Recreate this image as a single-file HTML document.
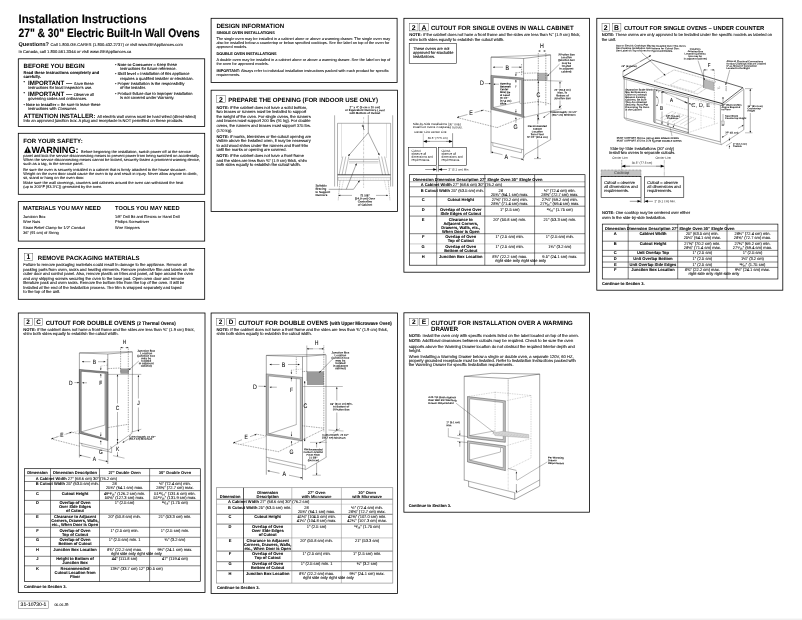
<!DOCTYPE html>
<html lang="en"><head><meta charset="utf-8">
<title>Installation Instructions – 27" &amp; 30" Electric Built-In Wall Ovens</title>
<style>
html,body{margin:0;padding:0;background:#fff;}
body{width:802px;height:620px;overflow:hidden;position:relative;font-family:"Liberation Sans",Arial,Helvetica,sans-serif;color:#000;}
#page{position:absolute;left:0;top:0;width:802px;height:620px;overflow:hidden;background:#fff;}
#layer{text-rendering:geometricPrecision;position:absolute;left:0;top:0;width:802px;height:620px;will-change:opacity;zoom:4;transform:scale(0.25);transform-origin:0 0;}
#gfx{position:absolute;left:0;top:0;width:802px;height:620px;}
#gfx text{font-family:"Liberation Sans",Arial,Helvetica,sans-serif;}
.t{position:absolute;white-space:nowrap;margin:0;padding:0;}
.t b{font-weight:bold;}
.sm{-webkit-text-stroke:0.07px #000;}
.t.sm b{-webkit-text-stroke:0.03px #000;}
.c{display:inline-block;transform-origin:0 50%;}
#foot{position:absolute;left:0;top:618px;width:802px;height:2px;background:linear-gradient(#f8f8f8 0,#f8f8f8 50%,#efefef 50%,#efefef 100%);}
</style></head>
<body>
<div id="page">
<div id="layer">
<svg id="gfx" width="802" height="620" viewBox="0 0 802 620">
<rect x="18.30" y="58.80" width="186.40" height="67.60" fill="none" stroke="#000" stroke-width="0.8"/>
<rect x="18.30" y="133.30" width="186.40" height="61.00" fill="none" stroke="#000" stroke-width="0.8"/>
<polygon points="24.30,152.70 30.90,152.70 27.60,146.60" fill="#000" stroke="#000" stroke-width="0.3"/>
<text x="27.60" y="152.10" font-size="5.0" text-anchor="middle" fill="#fff" font-weight="bold" stroke="#000" stroke-width="0.03">!</text>
<rect x="18.30" y="201.60" width="186.40" height="39.50" fill="none" stroke="#000" stroke-width="0.8"/>
<rect x="18.30" y="248.50" width="186.40" height="50.80" fill="none" stroke="#000" stroke-width="0.8"/>
<rect x="24.20" y="253.20" width="8.60" height="7.20" fill="none" stroke="#444" stroke-width="0.4"/>
<rect x="211.10" y="18.30" width="186.00" height="64.20" fill="none" stroke="#000" stroke-width="0.8"/>
<rect x="211.10" y="90.20" width="186.30" height="121.20" fill="none" stroke="#000" stroke-width="0.8"/>
<rect x="216.40" y="95.50" width="8.80" height="7.00" fill="none" stroke="#444" stroke-width="0.4"/>
<rect x="403.90" y="18.30" width="185.70" height="253.90" fill="none" stroke="#000" stroke-width="0.8"/>
<rect x="409.50" y="23.40" width="8.50" height="7.50" fill="none" stroke="#444" stroke-width="0.4"/>
<rect x="419.50" y="23.40" width="9.10" height="7.50" fill="none" stroke="#444" stroke-width="0.4"/>
<rect x="409.20" y="43.70" width="47.30" height="19.60" fill="none" stroke="#000" stroke-width="0.5"/>
<line x1="409.60" y1="181.80" x2="585.00" y2="181.80" stroke="#999" stroke-width="0.8"/>
<line x1="409.60" y1="186.80" x2="585.00" y2="186.80" stroke="#1a1a1a" stroke-width="0.55"/>
<line x1="409.60" y1="196.80" x2="585.00" y2="196.80" stroke="#1a1a1a" stroke-width="0.55"/>
<line x1="409.60" y1="206.20" x2="585.00" y2="206.20" stroke="#1a1a1a" stroke-width="0.55"/>
<line x1="409.60" y1="216.10" x2="585.00" y2="216.10" stroke="#1a1a1a" stroke-width="0.55"/>
<line x1="409.60" y1="233.70" x2="585.00" y2="233.70" stroke="#1a1a1a" stroke-width="0.55"/>
<line x1="409.60" y1="243.90" x2="585.00" y2="243.90" stroke="#999" stroke-width="0.5"/>
<line x1="409.60" y1="253.00" x2="585.00" y2="253.00" stroke="#1a1a1a" stroke-width="0.55"/>
<line x1="436.70" y1="174.70" x2="436.70" y2="265.20" stroke="#1a1a1a" stroke-width="0.55"/>
<line x1="484.80" y1="174.70" x2="484.80" y2="265.20" stroke="#1a1a1a" stroke-width="0.55"/>
<line x1="534.60" y1="174.70" x2="534.60" y2="265.20" stroke="#1a1a1a" stroke-width="0.55"/>
<rect x="409.60" y="174.70" width="175.40" height="90.50" fill="none" stroke="#000" stroke-width="0.65"/>
<rect x="596.80" y="18.30" width="186.00" height="271.90" fill="none" stroke="#000" stroke-width="0.8"/>
<rect x="602.00" y="23.60" width="7.50" height="7.50" fill="none" stroke="#444" stroke-width="0.4"/>
<rect x="612.20" y="23.60" width="8.70" height="7.50" fill="none" stroke="#444" stroke-width="0.4"/>
<line x1="602.30" y1="231.00" x2="777.90" y2="231.00" stroke="#999" stroke-width="0.8"/>
<line x1="602.30" y1="241.20" x2="777.90" y2="241.20" stroke="#1a1a1a" stroke-width="0.55"/>
<line x1="602.30" y1="250.40" x2="777.90" y2="250.40" stroke="#1a1a1a" stroke-width="0.55"/>
<line x1="602.30" y1="256.30" x2="777.90" y2="256.30" stroke="#1a1a1a" stroke-width="0.55"/>
<line x1="602.30" y1="262.00" x2="777.90" y2="262.00" stroke="#1a1a1a" stroke-width="0.55"/>
<line x1="602.30" y1="267.40" x2="777.90" y2="267.40" stroke="#1a1a1a" stroke-width="0.55"/>
<line x1="628.20" y1="224.10" x2="628.20" y2="279.00" stroke="#1a1a1a" stroke-width="0.55"/>
<line x1="677.70" y1="224.10" x2="677.70" y2="279.00" stroke="#1a1a1a" stroke-width="0.55"/>
<line x1="727.00" y1="224.10" x2="727.00" y2="279.00" stroke="#1a1a1a" stroke-width="0.55"/>
<rect x="602.30" y="224.10" width="175.60" height="54.90" fill="none" stroke="#000" stroke-width="0.65"/>
<rect x="18.30" y="313.00" width="186.70" height="279.60" fill="none" stroke="#000" stroke-width="0.8"/>
<rect x="24.10" y="318.20" width="8.10" height="7.00" fill="none" stroke="#444" stroke-width="0.4"/>
<rect x="34.70" y="318.20" width="7.90" height="7.00" fill="none" stroke="#444" stroke-width="0.4"/>
<line x1="24.40" y1="475.80" x2="200.30" y2="475.80" stroke="#999" stroke-width="0.7"/>
<line x1="24.40" y1="481.50" x2="200.30" y2="481.50" stroke="#1a1a1a" stroke-width="0.55"/>
<line x1="24.40" y1="490.60" x2="200.30" y2="490.60" stroke="#1a1a1a" stroke-width="0.55"/>
<line x1="24.40" y1="500.40" x2="200.30" y2="500.40" stroke="#1a1a1a" stroke-width="0.55"/>
<line x1="24.40" y1="514.10" x2="200.30" y2="514.10" stroke="#1a1a1a" stroke-width="0.55"/>
<line x1="24.40" y1="527.30" x2="200.30" y2="527.30" stroke="#1a1a1a" stroke-width="0.55"/>
<line x1="24.40" y1="537.30" x2="200.30" y2="537.30" stroke="#1a1a1a" stroke-width="0.55"/>
<line x1="24.40" y1="546.60" x2="200.30" y2="546.60" stroke="#1a1a1a" stroke-width="0.55"/>
<line x1="24.40" y1="556.30" x2="200.30" y2="556.30" stroke="#1a1a1a" stroke-width="0.55"/>
<line x1="24.40" y1="565.80" x2="200.30" y2="565.80" stroke="#1a1a1a" stroke-width="0.55"/>
<line x1="50.50" y1="468.70" x2="50.50" y2="581.60" stroke="#1a1a1a" stroke-width="0.55"/>
<line x1="99.50" y1="468.70" x2="99.50" y2="581.60" stroke="#1a1a1a" stroke-width="0.55"/>
<line x1="149.60" y1="468.70" x2="149.60" y2="581.60" stroke="#1a1a1a" stroke-width="0.55"/>
<rect x="24.40" y="468.70" width="175.90" height="112.90" fill="none" stroke="#000" stroke-width="0.65"/>
<rect x="211.10" y="313.00" width="186.30" height="280.60" fill="none" stroke="#000" stroke-width="0.8"/>
<rect x="216.40" y="318.20" width="8.30" height="7.00" fill="none" stroke="#444" stroke-width="0.4"/>
<rect x="226.80" y="318.20" width="8.60" height="7.00" fill="none" stroke="#444" stroke-width="0.4"/>
<line x1="216.60" y1="499.20" x2="392.80" y2="499.20" stroke="#1a1a1a" stroke-width="0.55"/>
<line x1="216.60" y1="504.20" x2="392.80" y2="504.20" stroke="#aaa" stroke-width="0.5"/>
<line x1="216.60" y1="514.30" x2="392.80" y2="514.30" stroke="#1a1a1a" stroke-width="0.55"/>
<line x1="216.60" y1="524.10" x2="392.80" y2="524.10" stroke="#1a1a1a" stroke-width="0.55"/>
<line x1="216.60" y1="537.90" x2="392.80" y2="537.90" stroke="#888" stroke-width="0.5"/>
<line x1="216.60" y1="551.10" x2="392.80" y2="551.10" stroke="#1a1a1a" stroke-width="0.55"/>
<line x1="216.60" y1="561.70" x2="392.80" y2="561.70" stroke="#1a1a1a" stroke-width="0.55"/>
<line x1="216.60" y1="570.70" x2="392.80" y2="570.70" stroke="#1a1a1a" stroke-width="0.55"/>
<line x1="243.50" y1="487.70" x2="243.50" y2="583.10" stroke="#111" stroke-width="0.7"/>
<line x1="291.80" y1="487.70" x2="291.80" y2="583.10" stroke="#888" stroke-width="0.5"/>
<line x1="341.40" y1="487.70" x2="341.40" y2="583.10" stroke="#888" stroke-width="0.5"/>
<rect x="216.60" y="487.70" width="176.20" height="95.40" fill="none" stroke="#888" stroke-width="0.65"/>
<rect x="403.90" y="312.80" width="185.70" height="199.40" fill="none" stroke="#000" stroke-width="0.8"/>
<rect x="409.50" y="318.50" width="8.50" height="7.10" fill="none" stroke="#444" stroke-width="0.4"/>
<rect x="419.50" y="318.50" width="8.70" height="7.10" fill="none" stroke="#444" stroke-width="0.4"/>
<rect x="18.30" y="601.00" width="30.40" height="7.40" fill="none" stroke="#777" stroke-width="0.5"/>
<line x1="334.60" y1="115.30" x2="334.60" y2="186.50" stroke="#222" stroke-width="0.35"/>
<line x1="392.70" y1="115.30" x2="392.70" y2="186.50" stroke="#222" stroke-width="0.35"/>
<line x1="337.50" y1="123.30" x2="337.50" y2="186.50" stroke="#222" stroke-width="0.35"/>
<line x1="390.60" y1="123.30" x2="390.60" y2="186.50" stroke="#222" stroke-width="0.35"/>
<line x1="337.50" y1="123.30" x2="390.60" y2="123.30" stroke="#222" stroke-width="0.35"/>
<line x1="341.50" y1="123.30" x2="341.50" y2="158.00" stroke="#888" stroke-width="0.25"/>
<line x1="386.50" y1="123.30" x2="386.50" y2="158.00" stroke="#888" stroke-width="0.25"/>
<line x1="363.60" y1="117.00" x2="363.60" y2="188.00" stroke="#555" stroke-width="0.3" stroke-dasharray="2 0.7 0.5 0.7"/>
<line x1="337.50" y1="174.80" x2="390.60" y2="174.80" stroke="#333" stroke-width="0.9"/>
<rect x="338.00" y="177.50" width="52.20" height="3.00" fill="none" stroke="#666" stroke-width="0.3"/>
<line x1="338.00" y1="179.00" x2="390.20" y2="179.00" stroke="#888" stroke-width="0.25" stroke-dasharray="1 0.6"/>
<line x1="342.80" y1="156.50" x2="339.00" y2="175.00" stroke="#222" stroke-width="0.3"/>
<line x1="384.60" y1="156.50" x2="388.60" y2="175.00" stroke="#222" stroke-width="0.3"/>
<line x1="345.80" y1="156.50" x2="342.00" y2="175.00" stroke="#222" stroke-width="0.3"/>
<line x1="381.60" y1="156.50" x2="385.60" y2="175.00" stroke="#222" stroke-width="0.3"/>
<line x1="348.80" y1="156.50" x2="345.00" y2="175.00" stroke="#222" stroke-width="0.3"/>
<line x1="378.60" y1="156.50" x2="382.60" y2="175.00" stroke="#222" stroke-width="0.3"/>
<line x1="340.00" y1="180.50" x2="338.20" y2="200.50" stroke="#222" stroke-width="0.3" stroke-dasharray="1.2 0.6"/>
<line x1="388.20" y1="180.50" x2="390.00" y2="200.50" stroke="#222" stroke-width="0.3" stroke-dasharray="1.2 0.6"/>
<line x1="343.50" y1="180.50" x2="341.50" y2="190.00" stroke="#777" stroke-width="0.3" stroke-dasharray="1.2 0.6"/>
<line x1="384.50" y1="180.50" x2="386.50" y2="190.00" stroke="#777" stroke-width="0.3" stroke-dasharray="1.2 0.6"/>
<line x1="349.00" y1="159.30" x2="378.50" y2="159.30" stroke="#222" stroke-width="0.35"/>
<line x1="349.00" y1="161.80" x2="378.50" y2="161.80" stroke="#222" stroke-width="0.3"/>
<line x1="349.00" y1="163.20" x2="378.50" y2="163.20" stroke="#888" stroke-width="0.25"/>
<line x1="368.30" y1="115.00" x2="368.30" y2="132.70" stroke="#000" stroke-width="0.35"/>
<line x1="368.30" y1="132.70" x2="348.30" y2="156.00" stroke="#000" stroke-width="0.35"/>
<polygon points="348.30,156.00 348.95,154.11 350.07,155.07" fill="#000" stroke="#000" stroke-width="0.1"/>
<line x1="368.30" y1="132.70" x2="379.40" y2="155.20" stroke="#000" stroke-width="0.35"/>
<polygon points="379.40,155.20 377.91,153.86 379.24,153.21" fill="#000" stroke="#000" stroke-width="0.1"/>
<text x="364.80" y="108.20" font-size="2.95" text-anchor="middle" fill="#000" font-weight="bold" stroke="#000" stroke-width="0.03" transform="rotate(0.2 364.80 108.20)">2" x 4" (5 cm x 10 cm)</text>
<text x="364.80" y="111.10" font-size="2.95" text-anchor="middle" fill="#000" font-weight="bold" stroke="#000" stroke-width="0.03" transform="rotate(0.2 364.80 111.10)">or Equivalent Runners Level</text>
<text x="364.80" y="114.00" font-size="2.95" text-anchor="middle" fill="#000" font-weight="bold" stroke="#000" stroke-width="0.03" transform="rotate(0.2 364.80 114.00)">with Bottom of Cutout</text>
<text x="363.00" y="127.00" font-size="3.2" text-anchor="middle" fill="#000" font-weight="bold" stroke="#000" stroke-width="0.03" transform="rotate(0.2 363.00 127.00)">C</text>
<text x="364.00" y="129.30" font-size="3.2" text-anchor="middle" fill="#000" font-weight="bold" stroke="#000" stroke-width="0.03" transform="rotate(0.2 364.00 129.30)">L</text>
<text x="315.40" y="186.60" font-size="2.95" text-anchor="start" fill="#000" font-weight="bold" stroke="#000" stroke-width="0.03" transform="rotate(0.2 315.40 186.60)">Suitable</text>
<text x="315.40" y="189.75" font-size="2.95" text-anchor="start" fill="#000" font-weight="bold" stroke="#000" stroke-width="0.03" transform="rotate(0.2 315.40 189.75)">Bracing</text>
<text x="315.40" y="192.90" font-size="2.95" text-anchor="start" fill="#000" font-weight="bold" stroke="#000" stroke-width="0.03" transform="rotate(0.2 315.40 192.90)">to Support</text>
<text x="315.40" y="196.05" font-size="2.95" text-anchor="start" fill="#000" font-weight="bold" stroke="#000" stroke-width="0.03" transform="rotate(0.2 315.40 196.05)">Runners</text>
<line x1="328.70" y1="189.30" x2="353.50" y2="189.30" stroke="#000" stroke-width="0.35"/>
<line x1="353.50" y1="189.30" x2="359.60" y2="180.60" stroke="#000" stroke-width="0.35"/>
<polygon points="359.60,180.60 359.14,182.55 357.93,181.69" fill="#000" stroke="#000" stroke-width="0.1"/>
<line x1="346.30" y1="189.30" x2="356.50" y2="163.60" stroke="#000" stroke-width="0.35"/>
<polygon points="356.50,163.60 356.50,165.60 355.13,165.05" fill="#000" stroke="#000" stroke-width="0.1"/>
<line x1="352.00" y1="195.40" x2="338.60" y2="195.40" stroke="#000" stroke-width="0.3"/>
<polygon points="338.60,195.40 340.27,194.73 340.27,196.07" fill="#000" stroke="#000" stroke-width="0.1"/>
<line x1="376.00" y1="195.40" x2="388.00" y2="195.40" stroke="#000" stroke-width="0.3"/>
<polygon points="388.00,195.40 386.33,196.07 386.33,194.73" fill="#000" stroke="#000" stroke-width="0.1"/>
<text x="365.00" y="196.40" font-size="2.95" text-anchor="middle" fill="#000" font-weight="bold" stroke="#000" stroke-width="0.03" transform="rotate(0.2 365.00 196.40)">21 5/8"</text>
<text x="365.00" y="199.50" font-size="2.95" text-anchor="middle" fill="#000" font-weight="bold" stroke="#000" stroke-width="0.03" transform="rotate(0.2 365.00 199.50)">(54.9 cm) Over</text>
<text x="365.00" y="202.60" font-size="2.95" text-anchor="middle" fill="#000" font-weight="bold" stroke="#000" stroke-width="0.03" transform="rotate(0.2 365.00 202.60)">Centerline</text>
<text x="365.00" y="205.70" font-size="2.95" text-anchor="middle" fill="#000" font-weight="bold" stroke="#000" stroke-width="0.03" transform="rotate(0.2 365.00 205.70)">of Cabinet</text>
<line x1="491.00" y1="57.00" x2="550.60" y2="54.70" stroke="#222" stroke-width="0.35"/>
<polyline points="491.00,57.20 523.60,58.50 550.60,55.00" fill="none" stroke="#222" stroke-width="0.4"/>
<line x1="491.00" y1="57.10" x2="491.00" y2="152.00" stroke="#222" stroke-width="0.4"/>
<line x1="523.60" y1="58.50" x2="523.60" y2="157.50" stroke="#222" stroke-width="0.4"/>
<line x1="550.60" y1="54.90" x2="550.60" y2="139.30" stroke="#222" stroke-width="0.4"/>
<line x1="491.00" y1="142.20" x2="523.60" y2="149.80" stroke="#222" stroke-width="0.35"/>
<line x1="492.80" y1="142.80" x2="492.80" y2="146.00" stroke="#222" stroke-width="0.3"/>
<line x1="492.80" y1="146.00" x2="521.50" y2="152.80" stroke="#222" stroke-width="0.35"/>
<line x1="521.50" y1="152.80" x2="521.50" y2="149.60" stroke="#222" stroke-width="0.3"/>
<line x1="525.00" y1="154.60" x2="551.20" y2="139.30" stroke="#222" stroke-width="0.35"/>
<line x1="523.60" y1="157.50" x2="525.00" y2="154.60" stroke="#222" stroke-width="0.3"/>
<polygon points="491.00,75.40 523.60,78.10 523.60,117.10 491.00,109.30" fill="#9a9a9a" stroke="#222" stroke-width="0.35"/>
<polygon points="493.30,77.40 521.60,79.80 521.60,114.80 493.30,107.50" fill="#fff" stroke="#222" stroke-width="0.3"/>
<line x1="519.80" y1="79.80" x2="519.80" y2="103.20" stroke="#222" stroke-width="0.3"/>
<line x1="493.30" y1="107.50" x2="519.80" y2="101.70" stroke="#222" stroke-width="0.3"/>
<line x1="519.80" y1="103.20" x2="521.60" y2="103.80" stroke="#222" stroke-width="0.3"/>
<rect x="537.20" y="73.00" width="10.00" height="7.20" fill="#b0b0b0" stroke="#777" stroke-width="0.2"/>
<line x1="538.30" y1="53.00" x2="538.30" y2="106.00" stroke="#222" stroke-width="0.5" stroke-dasharray="0.8 0.9"/>
<line x1="545.80" y1="53.00" x2="545.80" y2="106.00" stroke="#222" stroke-width="0.5" stroke-dasharray="0.8 0.9"/>
<line x1="523.60" y1="73.30" x2="537.60" y2="72.90" stroke="#222" stroke-width="0.5" stroke-dasharray="0.8 0.9"/>
<line x1="515.90" y1="73.00" x2="523.60" y2="71.80" stroke="#222" stroke-width="0.5" stroke-dasharray="0.8 0.9"/>
<line x1="523.60" y1="103.50" x2="538.30" y2="101.50" stroke="#222" stroke-width="0.5" stroke-dasharray="0.8 0.9"/>
<line x1="538.30" y1="101.50" x2="550.60" y2="104.00" stroke="#222" stroke-width="0.5" stroke-dasharray="0.8 0.9"/>
<line x1="523.60" y1="80.50" x2="538.30" y2="79.50" stroke="#222" stroke-width="0.5" stroke-dasharray="0.8 0.9"/>
<text transform="translate(542.00,48.20) scale(0.8,1)" font-size="6.6" text-anchor="middle" fill="#1a1a1a" stroke="#1a1a1a" stroke-width="0.12">H</text>
<line x1="541.00" y1="51.00" x2="538.50" y2="51.00" stroke="#000" stroke-width="0.3"/>
<polygon points="538.50,51.00 539.89,50.44 539.89,51.56" fill="#000" stroke="#000" stroke-width="0.1"/>
<line x1="543.00" y1="51.00" x2="545.60" y2="51.00" stroke="#000" stroke-width="0.3"/>
<polygon points="545.60,51.00 544.21,51.56 544.21,50.44" fill="#000" stroke="#000" stroke-width="0.1"/>
<text transform="translate(507.20,69.60) scale(0.8,1)" font-size="6.6" text-anchor="middle" fill="#1a1a1a" stroke="#1a1a1a" stroke-width="0.12">B</text>
<line x1="503.00" y1="67.20" x2="493.00" y2="67.20" stroke="#000" stroke-width="0.3"/>
<polygon points="493.00,67.20 494.67,66.53 494.67,67.87" fill="#000" stroke="#000" stroke-width="0.1"/>
<line x1="511.50" y1="67.20" x2="521.20" y2="67.20" stroke="#000" stroke-width="0.3"/>
<polygon points="521.20,67.20 519.53,67.87 519.53,66.53" fill="#000" stroke="#000" stroke-width="0.1"/>
<line x1="521.60" y1="64.00" x2="521.60" y2="76.00" stroke="#222" stroke-width="0.5" stroke-dasharray="0.8 0.9"/>
<text transform="translate(481.80,85.20) scale(0.8,1)" font-size="6.6" text-anchor="middle" fill="#1a1a1a" stroke="#1a1a1a" stroke-width="0.12">D</text>
<line x1="484.80" y1="83.60" x2="490.60" y2="83.60" stroke="#000" stroke-width="0.3"/>
<polygon points="490.60,83.60 489.11,84.19 489.11,83.01" fill="#000" stroke="#000" stroke-width="0.1"/>
<line x1="499.00" y1="84.20" x2="493.60" y2="84.20" stroke="#000" stroke-width="0.3"/>
<polygon points="493.60,84.20 495.09,83.61 495.09,84.79" fill="#000" stroke="#000" stroke-width="0.1"/>
<text x="499.90" y="84.60" font-size="2.65" text-anchor="start" fill="#000" font-weight="bold" stroke="#000" stroke-width="0.03" transform="rotate(0.2 499.90 84.60)">Opening</text>
<text x="499.90" y="87.44" font-size="2.65" text-anchor="start" fill="#000" font-weight="bold" stroke="#000" stroke-width="0.03" transform="rotate(0.2 499.90 87.44)">Between</text>
<text x="499.90" y="90.28" font-size="2.65" text-anchor="start" fill="#000" font-weight="bold" stroke="#000" stroke-width="0.03" transform="rotate(0.2 499.90 90.28)">Center</text>
<text x="499.90" y="93.12" font-size="2.65" text-anchor="start" fill="#000" font-weight="bold" stroke="#000" stroke-width="0.03" transform="rotate(0.2 499.90 93.12)">Must Be</text>
<text x="499.90" y="95.96" font-size="2.65" text-anchor="start" fill="#000" font-weight="bold" stroke="#000" stroke-width="0.03" transform="rotate(0.2 499.90 95.96)">at Least</text>
<text x="499.90" y="98.80" font-size="2.65" text-anchor="start" fill="#000" font-weight="bold" stroke="#000" stroke-width="0.03" transform="rotate(0.2 499.90 98.80)">30 1/2"</text>
<text x="499.90" y="101.64" font-size="2.65" text-anchor="start" fill="#000" font-weight="bold" stroke="#000" stroke-width="0.03" transform="rotate(0.2 499.90 101.64)">(77.4 cm)</text>
<text x="499.90" y="104.48" font-size="2.65" text-anchor="start" fill="#000" font-weight="bold" stroke="#000" stroke-width="0.03" transform="rotate(0.2 499.90 104.48)">Wide</text>
<line x1="515.90" y1="72.00" x2="515.90" y2="75.90" stroke="#000" stroke-width="0.3"/>
<polygon points="515.90,75.90 515.34,74.51 516.46,74.51" fill="#000" stroke="#000" stroke-width="0.1"/>
<line x1="515.90" y1="83.00" x2="515.90" y2="80.00" stroke="#000" stroke-width="0.3"/>
<polygon points="515.90,80.00 516.46,81.39 515.34,81.39" fill="#000" stroke="#000" stroke-width="0.1"/>
<text x="515.90" y="87.80" font-size="3.6" text-anchor="middle" fill="#555">F</text>
<line x1="515.90" y1="109.00" x2="515.90" y2="112.60" stroke="#000" stroke-width="0.3"/>
<polygon points="515.90,112.60 515.34,111.21 516.46,111.21" fill="#000" stroke="#000" stroke-width="0.1"/>
<line x1="515.90" y1="122.80" x2="515.90" y2="117.50" stroke="#000" stroke-width="0.3"/>
<polygon points="515.90,117.50 516.46,118.89 515.34,118.89" fill="#000" stroke="#000" stroke-width="0.1"/>
<text transform="translate(515.60,129.30) scale(0.8,1)" font-size="6.6" text-anchor="middle" fill="#1a1a1a" stroke="#1a1a1a" stroke-width="0.12">G</text>
<text transform="translate(538.30,97.30) scale(0.8,1)" font-size="6.6" text-anchor="middle" fill="#1a1a1a" stroke="#1a1a1a" stroke-width="0.12">C</text>
<line x1="538.30" y1="92.00" x2="538.30" y2="81.20" stroke="#000" stroke-width="0.3"/>
<polygon points="538.30,81.20 538.97,82.87 537.63,82.87" fill="#000" stroke="#000" stroke-width="0.1"/>
<line x1="538.30" y1="98.50" x2="538.30" y2="119.60" stroke="#000" stroke-width="0.3"/>
<polygon points="538.30,119.60 537.63,117.93 538.97,117.93" fill="#000" stroke="#000" stroke-width="0.1"/>
<line x1="537.00" y1="119.80" x2="539.60" y2="119.80" stroke="#222" stroke-width="0.3"/>
<line x1="523.60" y1="79.80" x2="562.30" y2="81.20" stroke="#222" stroke-width="0.3"/>
<line x1="523.60" y1="117.50" x2="561.70" y2="108.70" stroke="#222" stroke-width="0.3"/>
<line x1="560.00" y1="88.00" x2="560.00" y2="81.80" stroke="#000" stroke-width="0.3"/>
<polygon points="560.00,81.80 560.59,83.29 559.41,83.29" fill="#000" stroke="#000" stroke-width="0.1"/>
<line x1="560.00" y1="100.50" x2="560.00" y2="107.40" stroke="#000" stroke-width="0.3"/>
<polygon points="560.00,107.40 559.41,105.91 560.59,105.91" fill="#000" stroke="#000" stroke-width="0.1"/>
<text x="562.40" y="90.80" font-size="2.65" text-anchor="middle" fill="#000" font-weight="bold" stroke="#000" stroke-width="0.03" transform="rotate(0.2 562.40 90.80)">22" (55.9 cm)</text>
<text x="562.40" y="93.60" font-size="2.65" text-anchor="middle" fill="#000" font-weight="bold" stroke="#000" stroke-width="0.03" transform="rotate(0.2 562.40 93.60)">Max. To</text>
<text x="562.40" y="96.40" font-size="2.65" text-anchor="middle" fill="#000" font-weight="bold" stroke="#000" stroke-width="0.03" transform="rotate(0.2 562.40 96.40)">Bottom of</text>
<text x="562.40" y="99.20" font-size="2.65" text-anchor="middle" fill="#000" font-weight="bold" stroke="#000" stroke-width="0.03" transform="rotate(0.2 562.40 99.20)">Junction Box</text>
<text x="566.40" y="55.40" font-size="2.65" text-anchor="middle" fill="#000" font-weight="bold" stroke="#000" stroke-width="0.03" transform="rotate(0.2 566.40 55.40)">Junction Box</text>
<text x="566.40" y="58.24" font-size="2.65" text-anchor="middle" fill="#000" font-weight="bold" stroke="#000" stroke-width="0.03" transform="rotate(0.2 566.40 58.24)">Location</text>
<text x="566.40" y="61.08" font-size="2.65" text-anchor="middle" fill="#000" font-weight="bold" stroke="#000" stroke-width="0.03" transform="rotate(0.2 566.40 61.08)">(junction box</text>
<text x="566.40" y="63.92" font-size="2.65" text-anchor="middle" fill="#000" font-weight="bold" stroke="#000" stroke-width="0.03" transform="rotate(0.2 566.40 63.92)">may be</text>
<text x="566.40" y="66.76" font-size="2.65" text-anchor="middle" fill="#000" font-weight="bold" stroke="#000" stroke-width="0.03" transform="rotate(0.2 566.40 66.76)">located</text>
<text x="566.40" y="69.60" font-size="2.65" text-anchor="middle" fill="#000" font-weight="bold" stroke="#000" stroke-width="0.03" transform="rotate(0.2 566.40 69.60)">in adjacent</text>
<text x="566.40" y="72.44" font-size="2.65" text-anchor="middle" fill="#000" font-weight="bold" stroke="#000" stroke-width="0.03" transform="rotate(0.2 566.40 72.44)">cabinet)</text>
<line x1="559.60" y1="64.00" x2="547.40" y2="75.90" stroke="#000" stroke-width="0.3"/>
<polygon points="547.40,75.90 548.13,74.25 549.06,75.21" fill="#000" stroke="#000" stroke-width="0.1"/>
<text x="563.70" y="113.00" font-size="2.65" text-anchor="middle" fill="#000" font-weight="bold" stroke="#000" stroke-width="0.03" transform="rotate(0.2 563.70 113.00)">Cutout Depth: 23 1/2"</text>
<text x="563.70" y="115.70" font-size="2.65" text-anchor="middle" fill="#000" font-weight="bold" stroke="#000" stroke-width="0.03" transform="rotate(0.2 563.70 115.70)">(59.7 cm) Minimum</text>
<line x1="561.70" y1="105.20" x2="559.00" y2="107.90" stroke="#000" stroke-width="0.3"/>
<polygon points="559.00,107.90 559.59,106.52 560.38,107.31" fill="#000" stroke="#000" stroke-width="0.1"/>
<line x1="549.50" y1="113.10" x2="543.40" y2="117.60" stroke="#000" stroke-width="0.3"/>
<polygon points="543.40,117.60 544.24,116.24 544.95,117.20" fill="#000" stroke="#000" stroke-width="0.1"/>
<text x="537.30" y="127.10" font-size="2.65" text-anchor="middle" fill="#000" font-weight="bold" stroke="#000" stroke-width="0.03" transform="rotate(0.2 537.30 127.10)">Recommended</text>
<text x="537.30" y="129.80" font-size="2.65" text-anchor="middle" fill="#000" font-weight="bold" stroke="#000" stroke-width="0.03" transform="rotate(0.2 537.30 129.80)">Cutout</text>
<text x="537.30" y="132.50" font-size="2.65" text-anchor="middle" fill="#000" font-weight="bold" stroke="#000" stroke-width="0.03" transform="rotate(0.2 537.30 132.50)">Location</text>
<text x="537.30" y="135.20" font-size="2.65" text-anchor="middle" fill="#000" font-weight="bold" stroke="#000" stroke-width="0.03" transform="rotate(0.2 537.30 135.20)">from Floor</text>
<text x="537.30" y="137.90" font-size="2.65" text-anchor="middle" fill="#000" font-weight="bold" stroke="#000" stroke-width="0.03" transform="rotate(0.2 537.30 137.90)">32 1/2" (82.6 cm)</text>
<line x1="537.80" y1="124.00" x2="537.80" y2="114.80" stroke="#000" stroke-width="0.3"/>
<polygon points="537.80,114.80 538.39,116.29 537.21,116.29" fill="#000" stroke="#000" stroke-width="0.1"/>
<line x1="537.80" y1="139.50" x2="537.80" y2="158.50" stroke="#000" stroke-width="0.3"/>
<polygon points="537.80,158.50 537.21,157.01 538.39,157.01" fill="#000" stroke="#000" stroke-width="0.1"/>
<line x1="534.00" y1="158.60" x2="541.00" y2="158.60" stroke="#222" stroke-width="0.3"/>
<text transform="translate(471.00,115.40) scale(0.8,1)" font-size="6.6" text-anchor="middle" fill="#1a1a1a" stroke="#1a1a1a" stroke-width="0.12">E</text>
<line x1="467.50" y1="114.50" x2="457.20" y2="117.40" stroke="#000" stroke-width="0.3"/>
<polygon points="457.20,117.40 458.63,116.30 458.99,117.59" fill="#000" stroke="#000" stroke-width="0.1"/>
<line x1="474.50" y1="112.60" x2="483.00" y2="110.20" stroke="#000" stroke-width="0.3"/>
<polygon points="483.00,110.20 481.57,111.30 481.21,110.01" fill="#000" stroke="#000" stroke-width="0.1"/>
<line x1="457.00" y1="117.50" x2="497.10" y2="127.60" stroke="#222" stroke-width="0.5" stroke-dasharray="0.8 0.9"/>
<line x1="497.10" y1="127.60" x2="525.00" y2="116.60" stroke="#222" stroke-width="0.5" stroke-dasharray="0.8 0.9"/>
<line x1="483.20" y1="110.10" x2="491.00" y2="112.00" stroke="#222" stroke-width="0.5" stroke-dasharray="0.8 0.9"/>
<line x1="491.00" y1="152.00" x2="491.00" y2="153.50" stroke="#222" stroke-width="0.3"/>
<line x1="523.40" y1="157.00" x2="523.40" y2="161.00" stroke="#222" stroke-width="0.3"/>
<text transform="translate(506.30,159.00) scale(0.8,1)" font-size="6.6" text-anchor="middle" fill="#1a1a1a" stroke="#1a1a1a" stroke-width="0.12">A</text>
<line x1="502.50" y1="154.70" x2="491.30" y2="152.10" stroke="#000" stroke-width="0.3"/>
<polygon points="491.30,152.10 493.08,151.83 492.78,153.13" fill="#000" stroke="#000" stroke-width="0.1"/>
<line x1="510.50" y1="156.50" x2="523.20" y2="159.40" stroke="#000" stroke-width="0.3"/>
<polygon points="523.20,159.40 521.42,159.68 521.72,158.38" fill="#000" stroke="#000" stroke-width="0.1"/>
<text x="412.70" y="125.00" font-size="3.05" text-anchor="start" fill="#000" transform="rotate(0.2 412.70 125.00)">Side-by-Side Installations (30" only)</text>
<text x="412.70" y="128.00" font-size="3.05" text-anchor="start" fill="#000" transform="rotate(0.2 412.70 128.00)">Install two ovens in separate cutouts.</text>
<text x="414.20" y="133.00" font-size="3.05" text-anchor="start" fill="#000" transform="rotate(0.2 414.20 133.00)">Center Line Center Line</text>
<line x1="423.30" y1="133.60" x2="423.30" y2="147.30" stroke="#666" stroke-width="0.35"/>
<line x1="452.60" y1="133.20" x2="452.60" y2="147.30" stroke="#000" stroke-width="0.4"/>
<line x1="424.00" y1="141.40" x2="452.00" y2="141.40" stroke="#000" stroke-width="0.3"/>
<line x1="430.00" y1="141.40" x2="423.50" y2="141.40" stroke="#000" stroke-width="0.3"/>
<polygon points="423.50,141.40 426.84,140.06 426.84,142.74" fill="#000" stroke="#000" stroke-width="0.1"/>
<line x1="446.00" y1="141.40" x2="452.40" y2="141.40" stroke="#000" stroke-width="0.3"/>
<polygon points="452.40,141.40 449.06,142.74 449.06,140.06" fill="#000" stroke="#000" stroke-width="0.1"/>
<text x="437.70" y="139.00" font-size="2.95" text-anchor="middle" fill="#000" transform="rotate(0.2 437.70 139.00)">30.5" (77.5 cm)</text>
<rect x="408.40" y="147.30" width="28.30" height="18.30" fill="none" stroke="#000" stroke-width="0.5"/>
<rect x="438.50" y="147.30" width="28.10" height="18.30" fill="none" stroke="#000" stroke-width="0.5"/>
<text x="411.50" y="151.70" font-size="3.05" text-anchor="start" fill="#000" transform="rotate(0.2 411.50 151.70)">Cutout –</text>
<text x="411.50" y="154.75" font-size="3.05" text-anchor="start" fill="#000" transform="rotate(0.2 411.50 154.75)">observe all</text>
<text x="411.50" y="157.80" font-size="3.05" text-anchor="start" fill="#000" transform="rotate(0.2 411.50 157.80)">dimensions and</text>
<text x="411.50" y="160.85" font-size="3.05" text-anchor="start" fill="#000" transform="rotate(0.2 411.50 160.85)">requirements.</text>
<text x="441.40" y="151.70" font-size="3.05" text-anchor="start" fill="#000" transform="rotate(0.2 441.40 151.70)">Cutout –</text>
<text x="441.40" y="154.75" font-size="3.05" text-anchor="start" fill="#000" transform="rotate(0.2 441.40 154.75)">observe all</text>
<text x="441.40" y="157.80" font-size="3.05" text-anchor="start" fill="#000" transform="rotate(0.2 441.40 157.80)">dimensions and</text>
<text x="441.40" y="160.85" font-size="3.05" text-anchor="start" fill="#000" transform="rotate(0.2 441.40 160.85)">requirements.</text>
<line x1="436.70" y1="165.60" x2="436.70" y2="171.60" stroke="#000" stroke-width="0.4"/>
<line x1="438.50" y1="165.60" x2="438.50" y2="171.60" stroke="#000" stroke-width="0.4"/>
<line x1="425.20" y1="169.50" x2="436.40" y2="169.50" stroke="#000" stroke-width="0.4"/>
<polygon points="436.40,169.50 433.24,170.76 433.24,168.24" fill="#000" stroke="#000" stroke-width="0.1"/>
<line x1="447.00" y1="169.50" x2="438.80" y2="169.50" stroke="#000" stroke-width="0.4"/>
<polygon points="438.80,169.50 441.96,168.24 441.96,170.76" fill="#000" stroke="#000" stroke-width="0.1"/>
<text x="448.60" y="170.40" font-size="2.95" text-anchor="start" fill="#000" transform="rotate(0.2 448.60 170.40)">2" (5.1 cm) Min.</text>
<polyline points="622.90,76.80 651.60,59.90 742.90,87.70 722.30,103.60" fill="none" stroke="#111" stroke-width="0.65"/>
<line x1="622.90" y1="76.90" x2="722.30" y2="103.60" stroke="#222" stroke-width="0.9"/>
<line x1="623.00" y1="78.60" x2="722.30" y2="105.60" stroke="#222" stroke-width="0.35"/>
<line x1="722.30" y1="103.60" x2="722.30" y2="105.60" stroke="#222" stroke-width="0.35"/>
<line x1="722.30" y1="105.60" x2="743.60" y2="89.40" stroke="#222" stroke-width="0.35"/>
<line x1="742.90" y1="87.70" x2="743.60" y2="89.40" stroke="#222" stroke-width="0.35"/>
<line x1="624.20" y1="78.00" x2="624.20" y2="117.80" stroke="#222" stroke-width="0.4"/>
<line x1="720.40" y1="105.00" x2="720.40" y2="141.90" stroke="#222" stroke-width="0.4"/>
<line x1="743.80" y1="89.60" x2="743.80" y2="129.80" stroke="#222" stroke-width="0.4"/>
<line x1="624.20" y1="117.80" x2="720.40" y2="141.90" stroke="#222" stroke-width="0.4"/>
<line x1="626.00" y1="119.80" x2="721.40" y2="144.70" stroke="#222" stroke-width="0.35"/>
<line x1="624.20" y1="117.80" x2="626.00" y2="119.80" stroke="#222" stroke-width="0.3"/>
<line x1="720.40" y1="141.90" x2="721.40" y2="144.70" stroke="#222" stroke-width="0.3"/>
<line x1="721.40" y1="144.70" x2="743.80" y2="129.80" stroke="#222" stroke-width="0.35"/>
<line x1="626.50" y1="79.50" x2="626.50" y2="118.20" stroke="#777" stroke-width="0.25"/>
<polygon points="654.10,81.10 674.00,69.90 716.00,81.80 697.50,94.00" fill="none" stroke="#444" stroke-width="0.35" stroke-dasharray="1 0.6"/>
<polygon points="670.30,84.90 680.30,79.30 703.00,85.80 694.00,91.80" fill="none" stroke="#555" stroke-width="0.3" stroke-dasharray="1 0.6"/>
<line x1="654.00" y1="89.00" x2="654.00" y2="122.30" stroke="#666" stroke-width="1.1"/>
<line x1="655.60" y1="89.80" x2="655.60" y2="122.00" stroke="#222" stroke-width="0.3"/>
<line x1="688.30" y1="97.50" x2="688.30" y2="133.50" stroke="#111" stroke-width="0.5"/>
<line x1="654.00" y1="89.00" x2="688.30" y2="98.00" stroke="#222" stroke-width="0.4"/>
<line x1="654.00" y1="122.30" x2="688.30" y2="132.60" stroke="#222" stroke-width="0.5"/>
<line x1="656.00" y1="119.50" x2="688.30" y2="129.50" stroke="#222" stroke-width="0.3"/>
<line x1="660.00" y1="118.50" x2="672.00" y2="111.50" stroke="#777" stroke-width="0.25"/>
<line x1="664.00" y1="119.70" x2="676.00" y2="112.70" stroke="#777" stroke-width="0.25"/>
<line x1="668.00" y1="120.90" x2="680.00" y2="113.90" stroke="#777" stroke-width="0.25"/>
<line x1="672.00" y1="122.10" x2="684.00" y2="115.10" stroke="#777" stroke-width="0.25"/>
<line x1="676.00" y1="123.30" x2="688.00" y2="116.30" stroke="#777" stroke-width="0.25"/>
<line x1="680.00" y1="124.50" x2="692.00" y2="117.50" stroke="#777" stroke-width="0.25"/>
<line x1="684.00" y1="125.70" x2="696.00" y2="118.70" stroke="#777" stroke-width="0.25"/>
<line x1="672.00" y1="111.50" x2="696.00" y2="118.50" stroke="#666" stroke-width="0.3" stroke-dasharray="0.8 0.9"/>
<line x1="666.00" y1="104.00" x2="688.00" y2="110.00" stroke="#666" stroke-width="0.3" stroke-dasharray="0.8 0.9"/>
<line x1="688.30" y1="98.00" x2="716.00" y2="105.20" stroke="#555" stroke-width="0.3" stroke-dasharray="0.8 0.9"/>
<line x1="688.30" y1="132.60" x2="718.00" y2="123.00" stroke="#555" stroke-width="0.3" stroke-dasharray="0.8 0.9"/>
<line x1="701.00" y1="101.50" x2="701.00" y2="128.50" stroke="#777" stroke-width="0.3" stroke-dasharray="0.8 0.9"/>
<line x1="690.00" y1="112.00" x2="714.40" y2="119.00" stroke="#666" stroke-width="0.3" stroke-dasharray="0.8 0.9"/>
<polygon points="703.60,79.30 713.90,82.20 713.90,90.60 703.60,87.60" fill="#b8b8b8" stroke="#666" stroke-width="0.25"/>
<line x1="703.60" y1="69.90" x2="703.60" y2="88.00" stroke="#222" stroke-width="0.35"/>
<line x1="714.40" y1="69.90" x2="714.40" y2="124.20" stroke="#333" stroke-width="0.35" stroke-dasharray="0.8 0.9"/>
<text transform="translate(709.20,66.60) scale(0.8,1)" font-size="5.6" text-anchor="middle" fill="#1a1a1a" stroke="#1a1a1a" stroke-width="0.12">F</text>
<line x1="707.50" y1="69.90" x2="703.80" y2="69.90" stroke="#000" stroke-width="0.3"/>
<polygon points="703.80,69.90 705.29,69.31 705.29,70.49" fill="#000" stroke="#000" stroke-width="0.1"/>
<line x1="710.50" y1="69.90" x2="714.20" y2="69.90" stroke="#000" stroke-width="0.3"/>
<polygon points="714.20,69.90 712.71,70.49 712.71,69.31" fill="#000" stroke="#000" stroke-width="0.1"/>
<text x="695.20" y="49.70" font-size="2.48" text-anchor="middle" fill="#000" font-weight="bold" stroke="#000" stroke-width="0.03" transform="rotate(0.2 695.20 49.70)">Installers</text>
<text x="695.20" y="52.15" font-size="2.48" text-anchor="middle" fill="#000" font-weight="bold" stroke="#000" stroke-width="0.03" transform="rotate(0.2 695.20 52.15)">Junction Box</text>
<text x="695.20" y="54.60" font-size="2.48" text-anchor="middle" fill="#000" font-weight="bold" stroke="#000" stroke-width="0.03" transform="rotate(0.2 695.20 54.60)">Location (junction</text>
<text x="695.20" y="57.05" font-size="2.48" text-anchor="middle" fill="#000" font-weight="bold" stroke="#000" stroke-width="0.03" transform="rotate(0.2 695.20 57.05)">box may be</text>
<text x="695.20" y="59.50" font-size="2.48" text-anchor="middle" fill="#000" font-weight="bold" stroke="#000" stroke-width="0.03" transform="rotate(0.2 695.20 59.50)">in adjacent cabinet)</text>
<line x1="698.00" y1="60.60" x2="704.50" y2="80.00" stroke="#000" stroke-width="0.3"/>
<polygon points="704.50,80.00 703.40,78.70 704.60,78.30" fill="#000" stroke="#000" stroke-width="0.1"/>
<text x="726.40" y="62.10" font-size="2.43" text-anchor="start" fill="#000" font-weight="bold" stroke="#000" stroke-width="0.03" transform="rotate(0.2 726.40 62.10)">Allow all Electrical Connections</text>
<text x="726.40" y="64.40" font-size="2.43" text-anchor="start" fill="#000" font-weight="bold" stroke="#000" stroke-width="0.03" transform="rotate(0.2 726.40 64.40)">for Gas Cooktops that are Located</text>
<text x="726.40" y="66.70" font-size="2.43" text-anchor="start" fill="#000" font-weight="bold" stroke="#000" stroke-width="0.03" transform="rotate(0.2 726.40 66.70)">6" as Shown if Connection</text>
<text x="726.40" y="69.00" font-size="2.43" text-anchor="start" fill="#000" font-weight="bold" stroke="#000" stroke-width="0.03" transform="rotate(0.2 726.40 69.00)">Located to the Right</text>
<line x1="729.80" y1="69.90" x2="725.70" y2="84.90" stroke="#000" stroke-width="0.3"/>
<polygon points="725.70,84.90 725.51,83.21 726.72,83.54" fill="#000" stroke="#000" stroke-width="0.1"/>
<text x="719.50" y="88.50" font-size="2.48" text-anchor="middle" fill="#666" transform="rotate(-38 719.5 88.5)">42"</text>
<text x="727.00" y="88.50" font-size="2.48" text-anchor="middle" fill="#666" transform="rotate(-90 727.0 88.5)">2002</text>
<line x1="750.30" y1="105.00" x2="750.30" y2="89.00" stroke="#000" stroke-width="0.3"/>
<polygon points="750.30,89.00 750.97,90.67 749.63,90.67" fill="#000" stroke="#000" stroke-width="0.1"/>
<line x1="750.30" y1="113.00" x2="750.30" y2="132.60" stroke="#000" stroke-width="0.3"/>
<polygon points="750.30,132.60 749.63,130.93 750.97,130.93" fill="#000" stroke="#000" stroke-width="0.1"/>
<line x1="745.00" y1="88.60" x2="752.50" y2="88.60" stroke="#222" stroke-width="0.3"/>
<line x1="745.00" y1="132.80" x2="752.50" y2="132.80" stroke="#222" stroke-width="0.3"/>
<text x="747.40" y="107.00" font-size="2.48" text-anchor="start" fill="#000" font-weight="bold" stroke="#000" stroke-width="0.03" transform="rotate(0.2 747.40 107.00)">36" (91.4 cm)</text>
<text x="747.40" y="109.25" font-size="2.48" text-anchor="start" fill="#000" font-weight="bold" stroke="#000" stroke-width="0.03" transform="rotate(0.2 747.40 109.25)">Countertop</text>
<text x="747.40" y="111.50" font-size="2.48" text-anchor="start" fill="#000" font-weight="bold" stroke="#000" stroke-width="0.03" transform="rotate(0.2 747.40 111.50)">Height</text>
<text x="721.60" y="105.80" font-size="2.43" text-anchor="start" fill="#000" font-weight="bold" stroke="#000" stroke-width="0.03" transform="rotate(0.2 721.60 105.80)">22" (55.9 cm) Min.</text>
<text x="721.60" y="108.00" font-size="2.43" text-anchor="start" fill="#000" font-weight="bold" stroke="#000" stroke-width="0.03" transform="rotate(0.2 721.60 108.00)">Above Required</text>
<text x="721.60" y="110.20" font-size="2.43" text-anchor="start" fill="#000" font-weight="bold" stroke="#000" stroke-width="0.03" transform="rotate(0.2 721.60 110.20)">to Floor</text>
<text x="725.10" y="116.70" font-size="2.43" text-anchor="start" fill="#000" font-weight="bold" stroke="#000" stroke-width="0.03" transform="rotate(0.2 725.10 116.70)">Spec Block</text>
<text x="725.10" y="118.90" font-size="2.43" text-anchor="start" fill="#000" font-weight="bold" stroke="#000" stroke-width="0.03" transform="rotate(0.2 725.10 118.90)">Countertop Height</text>
<line x1="723.00" y1="103.50" x2="723.00" y2="97.00" stroke="#000" stroke-width="0.3"/>
<polygon points="723.00,97.00 723.56,98.39 722.44,98.39" fill="#000" stroke="#000" stroke-width="0.1"/>
<line x1="723.00" y1="114.00" x2="723.00" y2="126.00" stroke="#000" stroke-width="0.3"/>
<polygon points="723.00,126.00 722.44,124.61 723.56,124.61" fill="#000" stroke="#000" stroke-width="0.1"/>
<rect x="721.80" y="121.00" width="2.60" height="4.50" fill="none" stroke="#555" stroke-width="0.25"/>
<text x="731.80" y="133.40" font-size="2.48" text-anchor="middle" fill="#000" font-weight="bold" stroke="#000" stroke-width="0.03" transform="rotate(0.2 731.80 133.40)">24" (61 cm)</text>
<line x1="727.50" y1="134.00" x2="722.00" y2="137.40" stroke="#000" stroke-width="0.3"/>
<polygon points="722.00,137.40 722.95,136.11 723.58,137.12" fill="#000" stroke="#000" stroke-width="0.1"/>
<line x1="738.00" y1="128.30" x2="743.40" y2="125.20" stroke="#000" stroke-width="0.3"/>
<polygon points="743.40,125.20 742.41,126.45 741.82,125.43" fill="#000" stroke="#000" stroke-width="0.1"/>
<text x="733.10" y="144.70" font-size="2.43" text-anchor="start" fill="#000" font-weight="bold" stroke="#000" stroke-width="0.03" transform="rotate(0.2 733.10 144.70)">4" (10.2 cm)</text>
<text x="733.10" y="147.00" font-size="2.43" text-anchor="start" fill="#000" font-weight="bold" stroke="#000" stroke-width="0.03" transform="rotate(0.2 733.10 147.00)">Toekick</text>
<line x1="729.40" y1="137.50" x2="729.40" y2="140.50" stroke="#000" stroke-width="0.3"/>
<polygon points="729.40,140.50 728.88,139.20 729.92,139.20" fill="#000" stroke="#000" stroke-width="0.1"/>
<line x1="729.40" y1="149.00" x2="729.40" y2="145.60" stroke="#000" stroke-width="0.3"/>
<polygon points="729.40,145.60 729.92,146.90 728.88,146.90" fill="#000" stroke="#000" stroke-width="0.1"/>
<line x1="726.00" y1="146.00" x2="732.00" y2="142.20" stroke="#222" stroke-width="0.3"/>
<line x1="634.00" y1="65.00" x2="623.20" y2="71.20" stroke="#000" stroke-width="0.3"/>
<polygon points="623.20,71.20 624.32,69.79 624.98,70.95" fill="#000" stroke="#000" stroke-width="0.1"/>
<line x1="640.00" y1="61.60" x2="650.80" y2="55.60" stroke="#000" stroke-width="0.3"/>
<polygon points="650.80,55.60 649.66,57.00 649.01,55.83" fill="#000" stroke="#000" stroke-width="0.1"/>
<line x1="623.20" y1="71.20" x2="650.80" y2="55.60" stroke="#222" stroke-width="0.3"/>
<line x1="622.90" y1="76.80" x2="622.90" y2="71.00" stroke="#222" stroke-width="0.3"/>
<text x="629.00" y="67.00" font-size="2.48" text-anchor="middle" fill="#000" font-weight="bold" stroke="#000" stroke-width="0.03" transform="rotate(0.2 629.00 67.00)">25" (63.5 cm)</text>
<text x="616.10" y="46.50" font-size="2.5" text-anchor="start" fill="#000" font-weight="bold" stroke="#000" stroke-width="0.03" transform="rotate(0.2 616.10 46.50)">Gas or Electric Cooktops May Be Installed Over This Oven.</text>
<text x="616.10" y="49.00" font-size="2.5" text-anchor="start" fill="#000" font-weight="bold" stroke="#000" stroke-width="0.03" transform="rotate(0.2 616.10 49.00)">See Cooktop Installation Instructions for Cutout Size.</text>
<text x="616.10" y="51.50" font-size="2.5" text-anchor="start" fill="#000" font-weight="bold" stroke="#000" stroke-width="0.03" transform="rotate(0.2 616.10 51.50)">See Label on Top of Oven for Approved Models.</text>
<line x1="641.60" y1="52.50" x2="665.30" y2="75.50" stroke="#000" stroke-width="0.3"/>
<polygon points="665.30,75.50 663.54,74.78 664.52,73.77" fill="#000" stroke="#000" stroke-width="0.1"/>
<text x="625.20" y="90.50" font-size="2.48" text-anchor="start" fill="#000" font-weight="bold" stroke="#000" stroke-width="0.03" transform="rotate(0.2 625.20 90.50)">Separation Brake Block</text>
<text x="625.20" y="93.00" font-size="2.48" text-anchor="start" fill="#000" font-weight="bold" stroke="#000" stroke-width="0.03" transform="rotate(0.2 625.20 93.00)">May Be Necessary</text>
<text x="625.20" y="95.50" font-size="2.48" text-anchor="start" fill="#000" font-weight="bold" stroke="#000" stroke-width="0.03" transform="rotate(0.2 625.20 95.50)">Close to Cooktops</text>
<text x="625.20" y="98.00" font-size="2.48" text-anchor="start" fill="#000" font-weight="bold" stroke="#000" stroke-width="0.03" transform="rotate(0.2 625.20 98.00)">Between Existing</text>
<text x="625.20" y="100.50" font-size="2.48" text-anchor="start" fill="#000" font-weight="bold" stroke="#000" stroke-width="0.03" transform="rotate(0.2 625.20 100.50)">Cabinets. Be Sure</text>
<text x="625.20" y="103.00" font-size="2.48" text-anchor="start" fill="#000" font-weight="bold" stroke="#000" stroke-width="0.03" transform="rotate(0.2 625.20 103.00)">They Are Attached</text>
<text x="625.20" y="105.50" font-size="2.48" text-anchor="start" fill="#000" font-weight="bold" stroke="#000" stroke-width="0.03" transform="rotate(0.2 625.20 105.50)">Securely. Runs Flat</text>
<text x="625.20" y="108.00" font-size="2.48" text-anchor="start" fill="#000" font-weight="bold" stroke="#000" stroke-width="0.03" transform="rotate(0.2 625.20 108.00)">Preventing Tip Oven</text>
<text x="625.20" y="110.50" font-size="2.48" text-anchor="start" fill="#000" font-weight="bold" stroke="#000" stroke-width="0.03" transform="rotate(0.2 625.20 110.50)">in the Cabinet</text>
<text x="659.00" y="92.80" font-size="3.0" text-anchor="middle" fill="#444" transform="rotate(0.2 659.00 92.80)">F</text>
<line x1="656.80" y1="89.60" x2="656.80" y2="91.20" stroke="#000" stroke-width="0.3"/>
<polygon points="656.80,91.20 656.35,90.09 657.25,90.09" fill="#000" stroke="#000" stroke-width="0.1"/>
<text transform="translate(671.60,102.40) scale(0.8,1)" font-size="5.6" text-anchor="middle" fill="#1a1a1a" stroke="#1a1a1a" stroke-width="0.12">A</text>
<line x1="667.50" y1="94.00" x2="662.20" y2="91.50" stroke="#000" stroke-width="0.3"/>
<polygon points="662.20,91.50 663.80,91.60 663.29,92.67" fill="#000" stroke="#000" stroke-width="0.1"/>
<line x1="676.00" y1="98.00" x2="686.60" y2="102.60" stroke="#000" stroke-width="0.3"/>
<polygon points="686.60,102.60 685.00,102.55 685.47,101.46" fill="#000" stroke="#000" stroke-width="0.1"/>
<line x1="662.20" y1="91.50" x2="686.60" y2="102.60" stroke="#555" stroke-width="0.25"/>
<text transform="translate(661.60,110.00) scale(0.8,1)" font-size="5.6" text-anchor="middle" fill="#1a1a1a" stroke="#1a1a1a" stroke-width="0.12">B</text>
<line x1="662.00" y1="103.50" x2="662.00" y2="91.60" stroke="#000" stroke-width="0.3"/>
<polygon points="662.00,91.60 662.59,93.09 661.41,93.09" fill="#000" stroke="#000" stroke-width="0.1"/>
<line x1="662.00" y1="111.50" x2="662.00" y2="124.00" stroke="#000" stroke-width="0.3"/>
<polygon points="662.00,124.00 661.41,122.51 662.59,122.51" fill="#000" stroke="#000" stroke-width="0.1"/>
<path d="M656.5,96.5 Q660.5,101 656.5,106" fill="none" stroke="#222" stroke-width="0.3"/>
<line x1="657.20" y1="97.40" x2="656.60" y2="96.60" stroke="#000" stroke-width="0.3"/>
<polygon points="656.60,96.60 657.62,97.22 656.91,97.76" fill="#000" stroke="#000" stroke-width="0.1"/>
<line x1="657.20" y1="105.20" x2="656.60" y2="105.90" stroke="#000" stroke-width="0.3"/>
<polygon points="656.60,105.90 656.99,104.76 657.66,105.34" fill="#000" stroke="#000" stroke-width="0.1"/>
<text x="700.80" y="107.40" font-size="5.6" text-anchor="middle" fill="#1a1a1a" textLength="19" lengthAdjust="spacingAndGlyphs">C, D, E</text>
<line x1="694.00" y1="105.00" x2="689.00" y2="103.50" stroke="#000" stroke-width="0.3"/>
<polygon points="689.00,103.50 690.49,103.37 690.17,104.43" fill="#000" stroke="#000" stroke-width="0.1"/>
<line x1="684.00" y1="102.00" x2="687.80" y2="103.10" stroke="#000" stroke-width="0.3"/>
<polygon points="687.80,103.10 686.31,103.25 686.62,102.18" fill="#000" stroke="#000" stroke-width="0.1"/>
<text x="672.70" y="116.90" font-size="2.38" text-anchor="middle" fill="#000" font-weight="bold" stroke="#000" stroke-width="0.03" transform="rotate(0.2 672.70 116.90)">3/4" (1.9 cm)</text>
<text x="672.70" y="119.10" font-size="2.38" text-anchor="middle" fill="#000" font-weight="bold" stroke="#000" stroke-width="0.03" transform="rotate(0.2 672.70 119.10)">Clearance</text>
<line x1="668.00" y1="121.00" x2="668.00" y2="125.60" stroke="#000" stroke-width="0.3"/>
<polygon points="668.00,125.60 667.48,124.30 668.52,124.30" fill="#000" stroke="#000" stroke-width="0.1"/>
<line x1="675.00" y1="123.00" x2="673.00" y2="127.40" stroke="#000" stroke-width="0.3"/>
<polygon points="673.00,127.40 673.07,126.00 674.01,126.43" fill="#000" stroke="#000" stroke-width="0.1"/>
<text x="616.70" y="138.80" font-size="2.45" text-anchor="start" fill="#000" font-weight="bold" stroke="#000" stroke-width="0.03" transform="rotate(0.2 616.70 138.80)">MUST SUPPORT 200 lbs. (90 kg) FOR SINGLE OVENS</text>
<text x="616.70" y="141.50" font-size="2.45" text-anchor="start" fill="#000" font-weight="bold" stroke="#000" stroke-width="0.03" transform="rotate(0.2 616.70 141.50)">MUST SUPPORT 375 lbs. (170 kg) FOR DOUBLE OVENS</text>
<line x1="670.00" y1="127.00" x2="672.00" y2="136.00" stroke="#222" stroke-width="0.3"/>
<text x="612.30" y="158.70" font-size="3.02" text-anchor="start" fill="#000" transform="rotate(0.2 612.30 158.70)">Center Line</text>
<text x="655.40" y="158.70" font-size="3.02" text-anchor="start" fill="#000" transform="rotate(0.2 655.40 158.70)">Center Line</text>
<line x1="621.70" y1="160.00" x2="621.70" y2="170.50" stroke="#222" stroke-width="0.4" stroke-dasharray="1.6 0.5 0.5 0.5"/>
<line x1="664.30" y1="160.00" x2="664.30" y2="176.80" stroke="#333" stroke-width="0.45" stroke-dasharray="0.6 0.6"/>
<line x1="622.50" y1="166.20" x2="663.50" y2="166.20" stroke="#000" stroke-width="0.3"/>
<line x1="630.00" y1="166.20" x2="621.90" y2="166.20" stroke="#000" stroke-width="0.3"/>
<polygon points="621.90,166.20 625.24,164.86 625.24,167.54" fill="#000" stroke="#000" stroke-width="0.1"/>
<line x1="656.00" y1="166.20" x2="664.10" y2="166.20" stroke="#000" stroke-width="0.3"/>
<polygon points="664.10,166.20 660.76,167.54 660.76,164.86" fill="#000" stroke="#000" stroke-width="0.1"/>
<text x="642.00" y="163.70" font-size="3.05" text-anchor="middle" fill="#000" transform="rotate(0.2 642.00 163.70)">30.5" (77.5 cm)</text>
<rect x="601.10" y="170.20" width="39.90" height="6.20" fill="#c4c4c4" stroke="#bbb" stroke-width="0.1"/>
<line x1="601.10" y1="170.00" x2="641.00" y2="170.00" stroke="#333" stroke-width="0.5" stroke-dasharray="0.7 0.7"/>
<line x1="601.10" y1="170.00" x2="601.10" y2="176.40" stroke="#444" stroke-width="0.4" stroke-dasharray="0.7 0.7"/>
<line x1="641.00" y1="170.00" x2="641.00" y2="176.40" stroke="#444" stroke-width="0.4" stroke-dasharray="0.7 0.7"/>
<text x="621.70" y="174.00" font-size="4.0" text-anchor="middle" fill="#333">Cooktop</text>
<rect x="601.10" y="176.50" width="39.90" height="21.10" fill="none" stroke="#000" stroke-width="0.55"/>
<line x1="601.10" y1="176.50" x2="641.00" y2="176.50" stroke="#111" stroke-width="0.7" stroke-dasharray="0.9 0.5"/>
<rect x="644.40" y="176.80" width="39.40" height="20.80" fill="none" stroke="#000" stroke-width="0.55"/>
<line x1="641.00" y1="197.60" x2="641.00" y2="203.00" stroke="#000" stroke-width="0.45"/>
<line x1="644.40" y1="197.60" x2="644.40" y2="203.00" stroke="#000" stroke-width="0.45"/>
<line x1="629.80" y1="201.30" x2="640.70" y2="201.30" stroke="#000" stroke-width="0.4"/>
<polygon points="640.70,201.30 637.54,202.56 637.54,200.04" fill="#000" stroke="#000" stroke-width="0.1"/>
<line x1="652.90" y1="201.30" x2="644.70" y2="201.30" stroke="#000" stroke-width="0.4"/>
<polygon points="644.70,201.30 647.86,200.04 647.86,202.56" fill="#000" stroke="#000" stroke-width="0.1"/>
<text x="654.40" y="202.30" font-size="3.05" text-anchor="start" fill="#000" transform="rotate(0.2 654.40 202.30)">2" (5.1 cm) Min.</text>
<line x1="79.40" y1="352.80" x2="132.40" y2="351.60" stroke="#222" stroke-width="0.35"/>
<polyline points="79.40,353.00 107.50,354.00 132.40,352.00" fill="none" stroke="#222" stroke-width="0.4"/>
<line x1="79.40" y1="353.00" x2="79.40" y2="457.50" stroke="#222" stroke-width="0.4"/>
<line x1="107.80" y1="354.00" x2="107.80" y2="464.00" stroke="#222" stroke-width="0.4"/>
<line x1="132.40" y1="352.00" x2="132.40" y2="432.00" stroke="#222" stroke-width="0.4"/>
<polygon points="79.40,369.50 107.80,372.00 107.80,440.50 79.40,433.20" fill="#999" stroke="#111" stroke-width="0.45"/>
<polygon points="81.20,371.20 105.80,373.30 105.80,438.70 81.20,431.90" fill="#fff" stroke="#111" stroke-width="0.4"/>
<line x1="81.20" y1="431.90" x2="104.80" y2="425.10" stroke="#222" stroke-width="0.35"/>
<line x1="104.80" y1="373.60" x2="104.80" y2="425.10" stroke="#222" stroke-width="0.3"/>
<line x1="79.40" y1="443.00" x2="107.80" y2="449.60" stroke="#222" stroke-width="0.35"/>
<line x1="81.80" y1="442.90" x2="81.80" y2="445.60" stroke="#222" stroke-width="0.3"/>
<line x1="81.80" y1="445.60" x2="110.20" y2="452.00" stroke="#222" stroke-width="0.35"/>
<polyline points="110.00,446.80 111.60,447.20 111.60,452.60 110.00,452.20" fill="none" stroke="#222" stroke-width="0.35"/>
<line x1="107.80" y1="450.50" x2="132.40" y2="433.00" stroke="#222" stroke-width="0.35"/>
<rect x="120.60" y="368.70" width="8.20" height="4.90" fill="#9a9a9a" stroke="#777" stroke-width="0.2"/>
<line x1="120.60" y1="347.60" x2="120.60" y2="373.00" stroke="#222" stroke-width="0.5" stroke-dasharray="0.8 0.9"/>
<line x1="128.30" y1="347.60" x2="128.30" y2="432.00" stroke="#222" stroke-width="0.5" stroke-dasharray="0.8 0.9"/>
<line x1="107.30" y1="359.30" x2="107.30" y2="369.90" stroke="#555" stroke-width="0.7" stroke-dasharray="0.7 0.5"/>
<line x1="107.80" y1="368.60" x2="120.60" y2="368.00" stroke="#222" stroke-width="0.5" stroke-dasharray="0.8 0.9"/>
<line x1="107.80" y1="427.60" x2="128.30" y2="424.30" stroke="#222" stroke-width="0.5" stroke-dasharray="0.8 0.9"/>
<line x1="100.80" y1="366.00" x2="107.80" y2="365.20" stroke="#555" stroke-width="0.3" stroke-dasharray="0.8 0.9"/>
<text transform="translate(124.40,344.00) scale(0.8,1)" font-size="6.0" text-anchor="middle" fill="#1a1a1a" stroke="#1a1a1a" stroke-width="0.12">H</text>
<line x1="123.50" y1="347.60" x2="120.80" y2="347.60" stroke="#000" stroke-width="0.3"/>
<polygon points="120.80,347.60 122.19,347.04 122.19,348.16" fill="#000" stroke="#000" stroke-width="0.1"/>
<line x1="125.50" y1="347.60" x2="128.10" y2="347.60" stroke="#000" stroke-width="0.3"/>
<polygon points="128.10,347.60 126.71,348.16 126.71,347.04" fill="#000" stroke="#000" stroke-width="0.1"/>
<text transform="translate(94.30,364.40) scale(0.8,1)" font-size="6.2" text-anchor="middle" fill="#1a1a1a" stroke="#1a1a1a" stroke-width="0.12">B</text>
<line x1="90.50" y1="361.70" x2="82.00" y2="361.70" stroke="#000" stroke-width="0.3"/>
<polygon points="82.00,361.70 83.67,361.03 83.67,362.37" fill="#000" stroke="#000" stroke-width="0.1"/>
<line x1="98.00" y1="361.70" x2="105.40" y2="361.70" stroke="#000" stroke-width="0.3"/>
<polygon points="105.40,361.70 103.73,362.37 103.73,361.03" fill="#000" stroke="#000" stroke-width="0.1"/>
<line x1="100.80" y1="366.40" x2="100.80" y2="369.90" stroke="#000" stroke-width="0.3"/>
<polygon points="100.80,369.90 100.24,368.51 101.36,368.51" fill="#000" stroke="#000" stroke-width="0.1"/>
<line x1="100.80" y1="377.80" x2="100.80" y2="374.00" stroke="#000" stroke-width="0.3"/>
<polygon points="100.80,374.00 101.36,375.39 100.24,375.39" fill="#000" stroke="#000" stroke-width="0.1"/>
<text transform="translate(100.80,385.00) scale(0.8,1)" font-size="6.0" text-anchor="middle" fill="#1a1a1a" stroke="#1a1a1a" stroke-width="0.12">F</text>
<text transform="translate(70.80,385.00) scale(0.8,1)" font-size="6.2" text-anchor="middle" fill="#1a1a1a" stroke="#1a1a1a" stroke-width="0.12">D</text>
<line x1="74.40" y1="382.60" x2="79.00" y2="382.60" stroke="#000" stroke-width="0.3"/>
<polygon points="79.00,382.60 77.51,383.19 77.51,382.01" fill="#000" stroke="#000" stroke-width="0.1"/>
<line x1="87.00" y1="382.80" x2="82.40" y2="382.80" stroke="#000" stroke-width="0.3"/>
<polygon points="82.40,382.80 83.89,382.21 83.89,383.39" fill="#000" stroke="#000" stroke-width="0.1"/>
<text x="146.20" y="351.70" font-size="2.85" text-anchor="middle" fill="#000" font-weight="bold" stroke="#000" stroke-width="0.03" transform="rotate(0.2 146.20 351.70)">Junction Box</text>
<text x="146.20" y="354.20" font-size="2.85" text-anchor="middle" fill="#000" font-weight="bold" stroke="#000" stroke-width="0.03" transform="rotate(0.2 146.20 354.20)">Location</text>
<text x="146.20" y="356.70" font-size="2.85" text-anchor="middle" fill="#000" font-weight="bold" stroke="#000" stroke-width="0.03" transform="rotate(0.2 146.20 356.70)">(junction box</text>
<text x="146.20" y="359.20" font-size="2.85" text-anchor="middle" fill="#000" font-weight="bold" stroke="#000" stroke-width="0.03" transform="rotate(0.2 146.20 359.20)">may be</text>
<text x="146.20" y="361.70" font-size="2.85" text-anchor="middle" fill="#000" font-weight="bold" stroke="#000" stroke-width="0.03" transform="rotate(0.2 146.20 361.70)">located</text>
<text x="146.20" y="364.20" font-size="2.85" text-anchor="middle" fill="#000" font-weight="bold" stroke="#000" stroke-width="0.03" transform="rotate(0.2 146.20 364.20)">in adjacent</text>
<text x="146.20" y="366.70" font-size="2.85" text-anchor="middle" fill="#000" font-weight="bold" stroke="#000" stroke-width="0.03" transform="rotate(0.2 146.20 366.70)">cabinet)</text>
<line x1="138.90" y1="360.90" x2="129.00" y2="369.90" stroke="#000" stroke-width="0.3"/>
<polygon points="129.00,369.90 129.79,368.28 130.69,369.27" fill="#000" stroke="#000" stroke-width="0.1"/>
<text transform="translate(117.50,410.20) scale(0.8,1)" font-size="6.2" text-anchor="middle" fill="#1a1a1a" stroke="#1a1a1a" stroke-width="0.12">C</text>
<line x1="117.50" y1="403.50" x2="117.50" y2="374.70" stroke="#000" stroke-width="0.3"/>
<polygon points="117.50,374.70 118.17,376.37 116.83,376.37" fill="#000" stroke="#000" stroke-width="0.1"/>
<line x1="117.50" y1="412.00" x2="117.50" y2="441.00" stroke="#000" stroke-width="0.3"/>
<polygon points="117.50,441.00 116.83,439.33 118.17,439.33" fill="#000" stroke="#000" stroke-width="0.1"/>
<line x1="108.00" y1="374.40" x2="141.30" y2="374.40" stroke="#222" stroke-width="0.3"/>
<text transform="translate(138.40,405.40) scale(0.8,1)" font-size="6.2" text-anchor="middle" fill="#1a1a1a" stroke="#1a1a1a" stroke-width="0.12">J</text>
<line x1="138.40" y1="398.50" x2="138.40" y2="375.20" stroke="#000" stroke-width="0.3"/>
<polygon points="138.40,375.20 139.07,376.87 137.73,376.87" fill="#000" stroke="#000" stroke-width="0.1"/>
<line x1="138.40" y1="407.50" x2="138.40" y2="431.60" stroke="#000" stroke-width="0.3"/>
<polygon points="138.40,431.60 137.73,429.93 139.07,429.93" fill="#000" stroke="#000" stroke-width="0.1"/>
<line x1="130.80" y1="432.40" x2="141.30" y2="429.20" stroke="#222" stroke-width="0.3"/>
<text transform="translate(117.60,450.80) scale(0.8,1)" font-size="6.0" text-anchor="middle" fill="#1a1a1a" stroke="#1a1a1a" stroke-width="0.12">K</text>
<line x1="117.50" y1="444.50" x2="117.50" y2="441.60" stroke="#000" stroke-width="0.3"/>
<polygon points="117.50,441.60 118.02,442.90 116.98,442.90" fill="#000" stroke="#000" stroke-width="0.1"/>
<line x1="117.50" y1="452.00" x2="117.50" y2="456.50" stroke="#000" stroke-width="0.3"/>
<polygon points="117.50,456.50 116.98,455.20 118.02,455.20" fill="#000" stroke="#000" stroke-width="0.1"/>
<line x1="113.00" y1="455.60" x2="124.50" y2="458.20" stroke="#222" stroke-width="0.3"/>
<text x="129.20" y="437.60" font-size="2.59" text-anchor="start" fill="#000" font-weight="bold" stroke="#000" stroke-width="0.03" transform="rotate(0.2 129.20 437.60)">Cutout Depth: 23 1/2"</text>
<text x="129.20" y="439.80" font-size="2.59" text-anchor="start" fill="#000" font-weight="bold" stroke="#000" stroke-width="0.03" transform="rotate(0.2 129.20 439.80)">(59.7 cm) Minimum</text>
<line x1="128.80" y1="438.90" x2="122.70" y2="442.50" stroke="#000" stroke-width="0.3"/>
<polygon points="122.70,442.50 123.68,441.23 124.28,442.26" fill="#000" stroke="#000" stroke-width="0.1"/>
<line x1="100.80" y1="432.20" x2="100.80" y2="436.20" stroke="#000" stroke-width="0.3"/>
<polygon points="100.80,436.20 100.24,434.81 101.36,434.81" fill="#000" stroke="#000" stroke-width="0.1"/>
<line x1="100.80" y1="444.80" x2="100.80" y2="440.60" stroke="#000" stroke-width="0.3"/>
<polygon points="100.80,440.60 101.36,441.99 100.24,441.99" fill="#000" stroke="#000" stroke-width="0.1"/>
<text transform="translate(100.80,454.40) scale(0.8,1)" font-size="6.0" text-anchor="middle" fill="#1a1a1a" stroke="#1a1a1a" stroke-width="0.12">G</text>
<text transform="translate(61.90,436.60) scale(0.8,1)" font-size="6.0" text-anchor="middle" fill="#1a1a1a" stroke="#1a1a1a" stroke-width="0.12">E</text>
<line x1="58.50" y1="436.50" x2="51.50" y2="438.80" stroke="#000" stroke-width="0.3"/>
<polygon points="51.50,438.80 52.88,437.64 53.30,438.91" fill="#000" stroke="#000" stroke-width="0.1"/>
<line x1="65.50" y1="434.20" x2="71.40" y2="432.20" stroke="#000" stroke-width="0.3"/>
<polygon points="71.40,432.20 70.03,433.37 69.60,432.10" fill="#000" stroke="#000" stroke-width="0.1"/>
<line x1="51.30" y1="438.90" x2="79.70" y2="446.20" stroke="#222" stroke-width="0.5" stroke-dasharray="0.8 0.9"/>
<line x1="71.60" y1="432.10" x2="79.40" y2="434.00" stroke="#222" stroke-width="0.5" stroke-dasharray="0.8 0.9"/>
<line x1="56.00" y1="437.00" x2="79.40" y2="430.50" stroke="#666" stroke-width="0.3" stroke-dasharray="0.8 0.9"/>
<text transform="translate(94.30,461.00) scale(0.8,1)" font-size="6.2" text-anchor="middle" fill="#1a1a1a" stroke="#1a1a1a" stroke-width="0.12">A</text>
<line x1="90.50" y1="457.80" x2="79.60" y2="455.20" stroke="#000" stroke-width="0.3"/>
<polygon points="79.60,455.20 81.38,454.94 81.07,456.24" fill="#000" stroke="#000" stroke-width="0.1"/>
<line x1="98.50" y1="459.50" x2="107.60" y2="461.60" stroke="#000" stroke-width="0.3"/>
<polygon points="107.60,461.60 105.82,461.87 106.12,460.57" fill="#000" stroke="#000" stroke-width="0.1"/>
<line x1="266.30" y1="355.30" x2="325.80" y2="354.40" stroke="#222" stroke-width="0.35"/>
<polyline points="266.30,355.50 302.30,356.60 325.80,354.80" fill="none" stroke="#222" stroke-width="0.4"/>
<line x1="266.30" y1="355.50" x2="266.30" y2="474.70" stroke="#222" stroke-width="0.4"/>
<line x1="302.50" y1="356.60" x2="302.50" y2="480.00" stroke="#222" stroke-width="0.4"/>
<line x1="326.00" y1="354.80" x2="326.00" y2="456.90" stroke="#222" stroke-width="0.4"/>
<polygon points="266.30,373.90 302.50,377.50 302.50,441.00 266.30,435.00" fill="#bbb" stroke="#222" stroke-width="0.35"/>
<polygon points="268.40,375.90 300.30,379.00 300.30,439.00 268.40,433.60" fill="#fff" stroke="#222" stroke-width="0.3"/>
<line x1="296.30" y1="378.60" x2="296.30" y2="424.80" stroke="#222" stroke-width="0.3"/>
<line x1="268.80" y1="434.00" x2="296.30" y2="424.60" stroke="#222" stroke-width="0.35"/>
<line x1="266.30" y1="457.20" x2="302.50" y2="465.00" stroke="#222" stroke-width="0.35"/>
<line x1="269.00" y1="457.90" x2="269.00" y2="461.40" stroke="#222" stroke-width="0.3"/>
<line x1="269.00" y1="461.40" x2="305.20" y2="469.20" stroke="#222" stroke-width="0.35"/>
<line x1="305.20" y1="465.40" x2="305.20" y2="469.80" stroke="#222" stroke-width="0.3"/>
<line x1="302.50" y1="465.00" x2="305.20" y2="465.40" stroke="#222" stroke-width="0.3"/>
<line x1="305.20" y1="469.80" x2="326.80" y2="456.90" stroke="#222" stroke-width="0.35"/>
<rect x="307.10" y="371.50" width="16.70" height="13.40" fill="#9a9a9a" stroke="#777" stroke-width="0.2"/>
<line x1="296.30" y1="357.50" x2="296.30" y2="373.90" stroke="#222" stroke-width="0.5" stroke-dasharray="0.8 0.9"/>
<line x1="306.80" y1="345.50" x2="306.80" y2="381.00" stroke="#333" stroke-width="0.35"/>
<line x1="323.80" y1="345.50" x2="323.80" y2="432.00" stroke="#222" stroke-width="0.5" stroke-dasharray="0.8 0.9"/>
<line x1="302.50" y1="371.60" x2="307.10" y2="371.30" stroke="#222" stroke-width="0.5" stroke-dasharray="0.8 0.9"/>
<line x1="302.50" y1="425.80" x2="323.80" y2="428.20" stroke="#222" stroke-width="0.5" stroke-dasharray="0.8 0.9"/>
<line x1="291.40" y1="370.20" x2="302.50" y2="369.00" stroke="#555" stroke-width="0.3" stroke-dasharray="0.8 0.9"/>
<text transform="translate(316.50,344.60) scale(0.8,1)" font-size="6.4" text-anchor="middle" fill="#1a1a1a" stroke="#1a1a1a" stroke-width="0.12">H</text>
<line x1="313.00" y1="348.80" x2="307.00" y2="348.80" stroke="#000" stroke-width="0.3"/>
<polygon points="307.00,348.80 308.58,348.17 308.58,349.43" fill="#000" stroke="#000" stroke-width="0.1"/>
<line x1="319.00" y1="348.80" x2="323.60" y2="348.80" stroke="#000" stroke-width="0.3"/>
<polygon points="323.60,348.80 322.02,349.43 322.02,348.17" fill="#000" stroke="#000" stroke-width="0.1"/>
<line x1="307.00" y1="348.80" x2="323.60" y2="348.80" stroke="#444" stroke-width="0.25"/>
<text transform="translate(283.60,367.40) scale(0.8,1)" font-size="6.6" text-anchor="middle" fill="#1a1a1a" stroke="#1a1a1a" stroke-width="0.12">B</text>
<line x1="279.50" y1="364.50" x2="269.70" y2="364.50" stroke="#000" stroke-width="0.3"/>
<polygon points="269.70,364.50 271.37,363.83 271.37,365.17" fill="#000" stroke="#000" stroke-width="0.1"/>
<line x1="288.00" y1="364.50" x2="299.60" y2="364.50" stroke="#000" stroke-width="0.3"/>
<polygon points="299.60,364.50 297.93,365.17 297.93,363.83" fill="#000" stroke="#000" stroke-width="0.1"/>
<line x1="291.40" y1="369.80" x2="291.40" y2="373.90" stroke="#000" stroke-width="0.3"/>
<polygon points="291.40,373.90 290.84,372.51 291.96,372.51" fill="#000" stroke="#000" stroke-width="0.1"/>
<line x1="291.40" y1="381.40" x2="291.40" y2="377.60" stroke="#000" stroke-width="0.3"/>
<polygon points="291.40,377.60 291.96,378.99 290.84,378.99" fill="#000" stroke="#000" stroke-width="0.1"/>
<text transform="translate(291.40,391.60) scale(0.8,1)" font-size="6.2" text-anchor="middle" fill="#1a1a1a" stroke="#1a1a1a" stroke-width="0.12">F</text>
<text transform="translate(254.80,388.50) scale(0.8,1)" font-size="6.6" text-anchor="middle" fill="#1a1a1a" stroke="#1a1a1a" stroke-width="0.12">D</text>
<line x1="258.50" y1="386.20" x2="265.90" y2="386.40" stroke="#000" stroke-width="0.3"/>
<polygon points="265.90,386.40 264.40,386.95 264.43,385.77" fill="#000" stroke="#000" stroke-width="0.1"/>
<line x1="276.80" y1="387.20" x2="269.80" y2="387.20" stroke="#000" stroke-width="0.3"/>
<polygon points="269.80,387.20 271.29,386.61 271.29,387.79" fill="#000" stroke="#000" stroke-width="0.1"/>
<text x="340.40" y="353.60" font-size="2.85" text-anchor="middle" fill="#000" font-weight="bold" stroke="#000" stroke-width="0.03" transform="rotate(0.2 340.40 353.60)">Junction Box</text>
<text x="340.40" y="356.22" font-size="2.85" text-anchor="middle" fill="#000" font-weight="bold" stroke="#000" stroke-width="0.03" transform="rotate(0.2 340.40 356.22)">Location</text>
<text x="340.40" y="358.84" font-size="2.85" text-anchor="middle" fill="#000" font-weight="bold" stroke="#000" stroke-width="0.03" transform="rotate(0.2 340.40 358.84)">(junction box</text>
<text x="340.40" y="361.46" font-size="2.85" text-anchor="middle" fill="#000" font-weight="bold" stroke="#000" stroke-width="0.03" transform="rotate(0.2 340.40 361.46)">may be</text>
<text x="340.40" y="364.08" font-size="2.85" text-anchor="middle" fill="#000" font-weight="bold" stroke="#000" stroke-width="0.03" transform="rotate(0.2 340.40 364.08)">located</text>
<text x="340.40" y="366.70" font-size="2.85" text-anchor="middle" fill="#000" font-weight="bold" stroke="#000" stroke-width="0.03" transform="rotate(0.2 340.40 366.70)">in adjacent</text>
<text x="340.40" y="369.32" font-size="2.85" text-anchor="middle" fill="#000" font-weight="bold" stroke="#000" stroke-width="0.03" transform="rotate(0.2 340.40 369.32)">cabinet)</text>
<line x1="332.30" y1="359.30" x2="319.30" y2="372.60" stroke="#000" stroke-width="0.3"/>
<polygon points="319.30,372.60 319.99,370.94 320.95,371.87" fill="#000" stroke="#000" stroke-width="0.1"/>
<text transform="translate(305.40,407.80) scale(0.8,1)" font-size="6.6" text-anchor="middle" fill="#1a1a1a" stroke="#1a1a1a" stroke-width="0.12">C</text>
<line x1="304.70" y1="381.40" x2="304.70" y2="441.00" stroke="#222" stroke-width="0.3"/>
<line x1="304.70" y1="384.00" x2="304.70" y2="381.20" stroke="#000" stroke-width="0.3"/>
<polygon points="304.70,381.20 305.29,382.69 304.11,382.69" fill="#000" stroke="#000" stroke-width="0.1"/>
<line x1="304.70" y1="438.00" x2="304.70" y2="441.20" stroke="#000" stroke-width="0.3"/>
<polygon points="304.70,441.20 304.11,439.71 305.29,439.71" fill="#000" stroke="#000" stroke-width="0.1"/>
<line x1="303.10" y1="386.50" x2="342.80" y2="386.50" stroke="#222" stroke-width="0.3"/>
<line x1="336.80" y1="400.50" x2="336.80" y2="387.20" stroke="#000" stroke-width="0.3"/>
<polygon points="336.80,387.20 337.47,388.87 336.13,388.87" fill="#000" stroke="#000" stroke-width="0.1"/>
<line x1="336.80" y1="412.50" x2="336.80" y2="430.60" stroke="#000" stroke-width="0.3"/>
<polygon points="336.80,430.60 336.13,428.93 337.47,428.93" fill="#000" stroke="#000" stroke-width="0.1"/>
<line x1="328.50" y1="430.00" x2="343.50" y2="431.00" stroke="#222" stroke-width="0.3"/>
<line x1="333.00" y1="433.00" x2="340.00" y2="428.60" stroke="#222" stroke-width="0.3"/>
<text x="341.20" y="404.70" font-size="2.65" text-anchor="middle" fill="#000" font-weight="bold" stroke="#000" stroke-width="0.03" transform="rotate(0.2 341.20 404.70)">24" (61.0 cm) Min.</text>
<text x="341.20" y="407.55" font-size="2.65" text-anchor="middle" fill="#000" font-weight="bold" stroke="#000" stroke-width="0.03" transform="rotate(0.2 341.20 407.55)">to Bottom of</text>
<text x="341.20" y="410.40" font-size="2.65" text-anchor="middle" fill="#000" font-weight="bold" stroke="#000" stroke-width="0.03" transform="rotate(0.2 341.20 410.40)">Junction Box</text>
<text x="322.30" y="435.80" font-size="2.59" text-anchor="start" fill="#000" font-weight="bold" stroke="#000" stroke-width="0.03" transform="rotate(0.2 322.30 435.80)">Cutout Depth: 23 1/2"</text>
<text x="322.30" y="438.60" font-size="2.59" text-anchor="start" fill="#000" font-weight="bold" stroke="#000" stroke-width="0.03" transform="rotate(0.2 322.30 438.60)">(59.7 cm) Minimum</text>
<line x1="325.50" y1="439.90" x2="319.20" y2="443.00" stroke="#000" stroke-width="0.3"/>
<polygon points="319.20,443.00 320.27,441.81 320.80,442.88" fill="#000" stroke="#000" stroke-width="0.1"/>
<text x="313.30" y="450.40" font-size="2.59" text-anchor="middle" fill="#000" font-weight="bold" stroke="#000" stroke-width="0.03" transform="rotate(0.2 313.30 450.40)">Recommended</text>
<text x="313.30" y="453.10" font-size="2.59" text-anchor="middle" fill="#000" font-weight="bold" stroke="#000" stroke-width="0.03" transform="rotate(0.2 313.30 453.10)">Cutout Location</text>
<text x="313.30" y="455.80" font-size="2.59" text-anchor="middle" fill="#000" font-weight="bold" stroke="#000" stroke-width="0.03" transform="rotate(0.2 313.30 455.80)">From Floor</text>
<text x="313.30" y="458.50" font-size="2.59" text-anchor="middle" fill="#000" font-weight="bold" stroke="#000" stroke-width="0.03" transform="rotate(0.2 313.30 458.50)">21 5/8"</text>
<text x="313.30" y="461.20" font-size="2.59" text-anchor="middle" fill="#000" font-weight="bold" stroke="#000" stroke-width="0.03" transform="rotate(0.2 313.30 461.20)">(54.9 cm)</text>
<line x1="316.60" y1="447.50" x2="316.60" y2="442.60" stroke="#000" stroke-width="0.3"/>
<polygon points="316.60,442.60 317.19,444.09 316.01,444.09" fill="#000" stroke="#000" stroke-width="0.1"/>
<line x1="316.60" y1="463.00" x2="316.60" y2="475.00" stroke="#000" stroke-width="0.3"/>
<polygon points="316.60,475.00 316.01,473.51 317.19,473.51" fill="#000" stroke="#000" stroke-width="0.1"/>
<line x1="312.50" y1="475.20" x2="320.80" y2="475.20" stroke="#222" stroke-width="0.3"/>
<line x1="310.00" y1="442.40" x2="327.00" y2="442.40" stroke="#555" stroke-width="0.3"/>
<line x1="291.50" y1="431.60" x2="291.50" y2="436.20" stroke="#000" stroke-width="0.3"/>
<polygon points="291.50,436.20 290.94,434.81 292.06,434.81" fill="#000" stroke="#000" stroke-width="0.1"/>
<line x1="291.50" y1="445.60" x2="291.50" y2="441.00" stroke="#000" stroke-width="0.3"/>
<polygon points="291.50,441.00 292.06,442.39 290.94,442.39" fill="#000" stroke="#000" stroke-width="0.1"/>
<text transform="translate(291.50,454.40) scale(0.8,1)" font-size="6.4" text-anchor="middle" fill="#1a1a1a" stroke="#1a1a1a" stroke-width="0.12">G</text>
<text transform="translate(246.10,438.90) scale(0.8,1)" font-size="6.2" text-anchor="middle" fill="#1a1a1a" stroke="#1a1a1a" stroke-width="0.12">E</text>
<line x1="242.00" y1="439.70" x2="233.30" y2="443.00" stroke="#000" stroke-width="0.3"/>
<polygon points="233.30,443.00 234.63,441.78 235.10,443.03" fill="#000" stroke="#000" stroke-width="0.1"/>
<line x1="250.00" y1="436.70" x2="256.40" y2="434.30" stroke="#000" stroke-width="0.3"/>
<polygon points="256.40,434.30 255.07,435.51 254.60,434.26" fill="#000" stroke="#000" stroke-width="0.1"/>
<line x1="233.10" y1="443.10" x2="278.50" y2="451.70" stroke="#222" stroke-width="0.5" stroke-dasharray="0.8 0.9"/>
<line x1="278.50" y1="451.70" x2="323.90" y2="429.30" stroke="#222" stroke-width="0.5" stroke-dasharray="0.8 0.9"/>
<line x1="256.60" y1="434.20" x2="266.30" y2="436.00" stroke="#222" stroke-width="0.5" stroke-dasharray="0.8 0.9"/>
<line x1="240.00" y1="444.50" x2="266.30" y2="436.50" stroke="#666" stroke-width="0.3" stroke-dasharray="0.8 0.9"/>
<text transform="translate(284.20,476.30) scale(0.8,1)" font-size="6.6" text-anchor="middle" fill="#1a1a1a" stroke="#1a1a1a" stroke-width="0.12">A</text>
<line x1="279.50" y1="473.30" x2="267.70" y2="470.80" stroke="#000" stroke-width="0.3"/>
<polygon points="267.70,470.80 269.47,470.49 269.20,471.80" fill="#000" stroke="#000" stroke-width="0.1"/>
<line x1="289.00" y1="475.20" x2="302.30" y2="478.00" stroke="#000" stroke-width="0.3"/>
<polygon points="302.30,478.00 300.53,478.31 300.80,477.00" fill="#000" stroke="#000" stroke-width="0.1"/>
<polygon points="464.20,376.30 508.20,378.50 539.70,374.10 491.80,373.30" fill="none" stroke="#222" stroke-width="0.4"/>
<line x1="464.20" y1="376.30" x2="464.20" y2="480.40" stroke="#222" stroke-width="0.4"/>
<line x1="508.20" y1="378.50" x2="508.20" y2="469.00" stroke="#888" stroke-width="0.3"/>
<line x1="539.70" y1="374.10" x2="539.70" y2="486.10" stroke="#222" stroke-width="0.4"/>
<line x1="464.20" y1="480.00" x2="468.60" y2="481.00" stroke="#222" stroke-width="0.4"/>
<line x1="468.60" y1="481.00" x2="468.60" y2="486.60" stroke="#222" stroke-width="0.4"/>
<line x1="468.60" y1="486.60" x2="514.70" y2="499.40" stroke="#222" stroke-width="0.45"/>
<line x1="468.60" y1="481.20" x2="509.00" y2="491.20" stroke="#222" stroke-width="0.35"/>
<line x1="509.00" y1="491.20" x2="514.70" y2="492.60" stroke="#222" stroke-width="0.35"/>
<line x1="514.70" y1="492.60" x2="514.70" y2="499.40" stroke="#222" stroke-width="0.4"/>
<line x1="508.20" y1="470.00" x2="508.20" y2="491.00" stroke="#777" stroke-width="0.3" stroke-dasharray="0.8 0.6"/>
<line x1="514.70" y1="499.40" x2="539.70" y2="486.10" stroke="#222" stroke-width="0.4"/>
<line x1="515.60" y1="493.20" x2="539.70" y2="479.90" stroke="#222" stroke-width="0.35"/>
<line x1="508.20" y1="468.50" x2="516.40" y2="470.40" stroke="#222" stroke-width="0.35"/>
<polygon points="467.50,396.60 505.30,400.90 505.30,442.30 467.50,437.90" fill="#c4c4c4" stroke="#222" stroke-width="0.4"/>
<polygon points="469.60,398.80 503.20,402.60 503.20,439.60 469.60,435.60" fill="#fff" stroke="#222" stroke-width="0.3"/>
<polygon points="467.50,440.80 505.30,446.00 505.30,470.60 467.50,461.90" fill="#c4c4c4" stroke="#222" stroke-width="0.4"/>
<polygon points="469.60,443.20 503.20,447.80 503.20,467.80 469.60,460.00" fill="#fff" stroke="#222" stroke-width="0.3"/>
<line x1="469.60" y1="460.00" x2="500.50" y2="452.00" stroke="#222" stroke-width="0.3"/>
<line x1="500.50" y1="448.00" x2="500.50" y2="452.00" stroke="#222" stroke-width="0.3"/>
<line x1="467.50" y1="396.60" x2="495.10" y2="392.20" stroke="#555" stroke-width="0.3" stroke-dasharray="0.8 0.9"/>
<line x1="495.10" y1="392.20" x2="531.00" y2="395.50" stroke="#555" stroke-width="0.3" stroke-dasharray="0.8 0.9"/>
<line x1="505.30" y1="400.90" x2="531.00" y2="395.50" stroke="#555" stroke-width="0.3" stroke-dasharray="0.8 0.9"/>
<line x1="495.10" y1="392.20" x2="495.10" y2="432.00" stroke="#555" stroke-width="0.3" stroke-dasharray="0.8 0.9"/>
<line x1="531.00" y1="395.50" x2="531.00" y2="458.00" stroke="#555" stroke-width="0.3" stroke-dasharray="0.8 0.9"/>
<line x1="505.30" y1="470.60" x2="531.00" y2="458.00" stroke="#555" stroke-width="0.3" stroke-dasharray="0.8 0.9"/>
<line x1="505.30" y1="446.00" x2="531.00" y2="438.50" stroke="#555" stroke-width="0.3" stroke-dasharray="0.8 0.9"/>
<line x1="469.60" y1="435.60" x2="495.10" y2="430.80" stroke="#222" stroke-width="0.3"/>
<line x1="508.20" y1="380.00" x2="508.20" y2="396.00" stroke="#666" stroke-width="0.3" stroke-dasharray="0.8 0.9"/>
<polygon points="492.90,432.80 503.50,431.20 528.80,434.60 528.80,438.00 495.00,435.60" fill="#d4d4d4" stroke="#777" stroke-width="0.25"/>
<line x1="494.00" y1="432.60" x2="491.60" y2="434.60" stroke="#999" stroke-width="0.2"/>
<line x1="497.00" y1="432.87" x2="494.60" y2="434.87" stroke="#999" stroke-width="0.2"/>
<line x1="500.00" y1="433.14" x2="497.60" y2="435.14" stroke="#999" stroke-width="0.2"/>
<line x1="503.00" y1="433.41" x2="500.60" y2="435.41" stroke="#999" stroke-width="0.2"/>
<line x1="506.00" y1="433.68" x2="503.60" y2="435.68" stroke="#999" stroke-width="0.2"/>
<line x1="509.00" y1="433.95" x2="506.60" y2="435.95" stroke="#999" stroke-width="0.2"/>
<line x1="512.00" y1="434.22" x2="509.60" y2="436.22" stroke="#999" stroke-width="0.2"/>
<line x1="515.00" y1="434.49" x2="512.60" y2="436.49" stroke="#999" stroke-width="0.2"/>
<line x1="518.00" y1="434.76" x2="515.60" y2="436.76" stroke="#999" stroke-width="0.2"/>
<line x1="521.00" y1="435.03" x2="518.60" y2="437.03" stroke="#999" stroke-width="0.2"/>
<line x1="524.00" y1="435.30" x2="521.60" y2="437.30" stroke="#999" stroke-width="0.2"/>
<line x1="527.00" y1="435.57" x2="524.60" y2="437.57" stroke="#999" stroke-width="0.2"/>
<text x="428.30" y="398.10" font-size="2.59" text-anchor="start" fill="#000" font-weight="bold" stroke="#000" stroke-width="0.03" transform="rotate(0.2 428.30 398.10)">Anti-Tip Block Against</text>
<text x="428.30" y="401.05" font-size="2.59" text-anchor="start" fill="#000" font-weight="bold" stroke="#000" stroke-width="0.03" transform="rotate(0.2 428.30 401.05)">Rear Wall Per Warming</text>
<text x="428.30" y="404.00" font-size="2.59" text-anchor="start" fill="#000" font-weight="bold" stroke="#000" stroke-width="0.03" transform="rotate(0.2 428.30 404.00)">Drawer Requirement</text>
<line x1="455.90" y1="403.10" x2="494.00" y2="432.50" stroke="#222" stroke-width="0.3"/>
<text x="446.60" y="423.30" font-size="2.59" text-anchor="start" fill="#000" font-weight="bold" stroke="#000" stroke-width="0.03" transform="rotate(0.2 446.60 423.30)">2" (5.1 cm)</text>
<text x="446.60" y="426.30" font-size="2.59" text-anchor="start" fill="#000" font-weight="bold" stroke="#000" stroke-width="0.03" transform="rotate(0.2 446.60 426.30)">Min.</text>
<polyline points="448.30,428.10 448.30,436.80 459.80,438.60" fill="none" stroke="#222" stroke-width="0.3"/>
<line x1="459.80" y1="430.30" x2="459.80" y2="435.20" stroke="#000" stroke-width="0.3"/>
<polygon points="459.80,435.20 459.24,433.81 460.36,433.81" fill="#000" stroke="#000" stroke-width="0.1"/>
<line x1="459.80" y1="446.80" x2="459.80" y2="441.60" stroke="#000" stroke-width="0.3"/>
<polygon points="459.80,441.60 460.36,442.99 459.24,442.99" fill="#000" stroke="#000" stroke-width="0.1"/>
<line x1="457.00" y1="435.30" x2="467.50" y2="436.60" stroke="#222" stroke-width="0.3"/>
<line x1="457.00" y1="441.40" x2="467.50" y2="442.60" stroke="#222" stroke-width="0.3"/>
<text x="548.00" y="458.60" font-size="2.59" text-anchor="start" fill="#000" font-weight="bold" stroke="#000" stroke-width="0.03" transform="rotate(0.2 548.00 458.60)">Per Warming</text>
<text x="548.00" y="461.35" font-size="2.59" text-anchor="start" fill="#000" font-weight="bold" stroke="#000" stroke-width="0.03" transform="rotate(0.2 548.00 461.35)">Drawer</text>
<text x="548.00" y="464.10" font-size="2.59" text-anchor="start" fill="#000" font-weight="bold" stroke="#000" stroke-width="0.03" transform="rotate(0.2 548.00 464.10)">Requirement</text>
<line x1="547.30" y1="461.90" x2="516.90" y2="480.40" stroke="#222" stroke-width="0.3"/>
<line x1="516.40" y1="480.00" x2="516.40" y2="471.70" stroke="#000" stroke-width="0.3"/>
<polygon points="516.40,471.70 516.99,473.19 515.81,473.19" fill="#000" stroke="#000" stroke-width="0.1"/>
<line x1="516.40" y1="484.00" x2="516.40" y2="492.30" stroke="#000" stroke-width="0.3"/>
<polygon points="516.40,492.30 515.81,490.81 516.99,490.81" fill="#000" stroke="#000" stroke-width="0.1"/>
</svg>
<div class="t" style="left:18.50px;top:11.55px;font-size:12.1px;line-height:14.52px;font-weight:bold;-webkit-text-stroke:0.15px #000;"><span class="c" style="transform:scaleX(0.94)">Installation Instructions</span></div>
<div class="t" style="left:18.50px;top:25.55px;font-size:12.1px;line-height:14.52px;font-weight:bold;-webkit-text-stroke:0.15px #000;"><span class="c" style="transform:scaleX(0.846)">27" &amp; 30" Electric Built-In Wall Ovens</span></div>
<div class="t" style="left:18.50px;top:40.75px;font-size:5.55px;line-height:6.66px;"><b>Questions?</b> <span class="sm" style="font-size:4.12px">Call 1.800.GE.CARES (1.800.432.2737) or visit www.GEAppliances.com</span></div>
<div class="t sm" style="left:18.50px;top:49.10px;font-size:4.12px;line-height:4.94px;">In Canada, call 1.800.561.3344 or visit www.GEAppliances.ca</div>
<div class="t" style="left:23.50px;top:62.23px;font-size:6.1px;line-height:7.32px;font-weight:bold;">BEFORE YOU BEGIN</div>
<div class="t sm" style="left:23.50px;top:70.21px;font-size:4.0px;line-height:4.80px;font-weight:bold;">Read these instructions completely and</div>
<div class="t sm" style="left:23.50px;top:74.21px;font-size:4.0px;line-height:4.80px;font-weight:bold;">carefully.</div>
<div class="t sm" style="left:23.40px;top:79.02px;font-size:4.2px;line-height:5.04px;font-weight:bold;-webkit-text-stroke:0.15px #000;">•</div>
<div class="t" style="left:28.10px;top:79.18px;font-size:6.15px;line-height:7.38px;"><b>IMPORTANT —</b> <span class="sm" style="font-size:4.0px">Save these</span></div>
<div class="t sm" style="left:28.10px;top:85.21px;font-size:4.0px;line-height:4.80px;">instructions for local inspector's use.</div>
<div class="t sm" style="left:23.40px;top:90.02px;font-size:4.2px;line-height:5.04px;font-weight:bold;-webkit-text-stroke:0.15px #000;">•</div>
<div class="t" style="left:28.10px;top:90.18px;font-size:6.15px;line-height:7.38px;"><b>IMPORTANT —</b> <span class="sm" style="font-size:4.0px">Observe all</span></div>
<div class="t sm" style="left:28.10px;top:96.21px;font-size:4.0px;line-height:4.80px;">governing codes and ordinances.</div>
<div class="t sm" style="left:23.50px;top:102.21px;font-size:4.0px;line-height:4.80px;">• <b>Note to Installer</b> – Be sure to leave these</div>
<div class="t sm" style="left:28.10px;top:106.21px;font-size:4.0px;line-height:4.80px;">instructions with Consumer.</div>
<div class="t sm" style="left:115.10px;top:62.21px;font-size:4.0px;line-height:4.80px;">• <b>Note to Consumer</b> – Keep these</div>
<div class="t sm" style="left:120.10px;top:66.21px;font-size:4.0px;line-height:4.80px;">instructions for future reference.</div>
<div class="t sm" style="left:115.10px;top:71.21px;font-size:4.0px;line-height:4.80px;">• <b>Skill level</b> – Installation of this appliance</div>
<div class="t sm" style="left:120.10px;top:76.21px;font-size:4.0px;line-height:4.80px;">requires a qualified installer or electrician.</div>
<div class="t sm" style="left:115.10px;top:81.21px;font-size:4.0px;line-height:4.80px;">• Proper installation is the responsibility</div>
<div class="t sm" style="left:120.10px;top:85.21px;font-size:4.0px;line-height:4.80px;">of the installer.</div>
<div class="t sm" style="left:115.10px;top:91.21px;font-size:4.0px;line-height:4.80px;">• Product failure due to improper installation</div>
<div class="t sm" style="left:120.10px;top:95.21px;font-size:4.0px;line-height:4.80px;">is not covered under Warranty.</div>
<div class="t" style="left:23.60px;top:112.23px;font-size:6.1px;line-height:7.32px;"><b>ATTENTION INSTALLER:</b> <span class="sm" style="font-size:4.05px">All electric wall ovens must be hard-wired (direct-wired)</span></div>
<div class="t sm" style="left:23.60px;top:118.17px;font-size:4.05px;line-height:4.86px;">into an approved junction box. A plug and receptacle is NOT permitted on these products.</div>
<div class="t" style="left:23.30px;top:137.23px;font-size:6.1px;line-height:7.32px;font-weight:bold;">FOR YOUR SAFETY:</div>
<div class="t" style="left:31.50px;top:144.39px;font-size:9.1px;line-height:10.92px;"><b>WARNING:</b> <span class="sm" style="font-size:3.9px">Before beginning the installation, switch power off at the service</span></div>
<div class="t sm" style="left:23.30px;top:153.31px;font-size:3.9px;line-height:4.68px;">panel and lock the service disconnecting means to prevent power from being switched on accidentally.</div>
<div class="t sm" style="left:23.30px;top:157.31px;font-size:3.9px;line-height:4.68px;">When the service disconnecting means cannot be locked, securely fasten a prominent warning device,</div>
<div class="t sm" style="left:23.30px;top:161.31px;font-size:3.9px;line-height:4.68px;">such as a tag, to the service panel.</div>
<div class="t sm" style="left:23.30px;top:167.31px;font-size:3.9px;line-height:4.68px;">Be sure the oven is securely installed in a cabinet that is firmly attached to the house structure.</div>
<div class="t sm" style="left:23.30px;top:171.31px;font-size:3.9px;line-height:4.68px;">Weight on the oven door could cause the oven to tip and result in injury. Never allow anyone to climb,</div>
<div class="t sm" style="left:23.30px;top:175.31px;font-size:3.9px;line-height:4.68px;">sit, stand or hang on the oven door.</div>
<div class="t sm" style="left:23.30px;top:180.31px;font-size:3.9px;line-height:4.68px;">Make sure the wall coverings, counters and cabinets around the oven can withstand the heat</div>
<div class="t sm" style="left:23.30px;top:184.31px;font-size:3.9px;line-height:4.68px;">(up to 200°F [93.3°C]) generated by the oven.</div>
<div class="t" style="left:23.10px;top:204.60px;font-size:5.7px;line-height:6.84px;font-weight:bold;">MATERIALS YOU MAY NEED</div>
<div class="t" style="left:115.10px;top:204.60px;font-size:5.7px;line-height:6.84px;font-weight:bold;">TOOLS YOU MAY NEED</div>
<div class="t sm" style="left:23.10px;top:214.31px;font-size:3.9px;line-height:4.68px;">Junction Box</div>
<div class="t sm" style="left:23.10px;top:219.31px;font-size:3.9px;line-height:4.68px;">Wire Nuts</div>
<div class="t sm" style="left:23.10px;top:225.31px;font-size:3.9px;line-height:4.68px;">Strain Relief Clamp for 1/2" Conduit</div>
<div class="t sm" style="left:23.10px;top:230.31px;font-size:3.9px;line-height:4.68px;">36" (91 cm) of String</div>
<div class="t sm" style="left:115.10px;top:214.31px;font-size:3.9px;line-height:4.68px;">1/8" Drill Bit and Electric or Hand Drill</div>
<div class="t sm" style="left:115.10px;top:219.31px;font-size:3.9px;line-height:4.68px;">Phillips Screwdriver</div>
<div class="t sm" style="left:115.10px;top:225.31px;font-size:3.9px;line-height:4.68px;">Wire Strippers</div>
<div class="t" style="left:24.20px;top:252.87px;font-size:6.9px;line-height:8.28px;font-weight:bold;width:8.60px;text-align:center;">1</div>
<div class="t" style="left:37.80px;top:254.23px;font-size:6.1px;line-height:7.32px;font-weight:bold;">REMOVE PACKAGING MATERIALS</div>
<div class="t sm" style="left:23.30px;top:262.15px;font-size:4.07px;line-height:4.88px;">Failure to remove packaging materials could result in damage to the appliance. Remove all</div>
<div class="t sm" style="left:23.30px;top:267.15px;font-size:4.07px;line-height:4.88px;">packing parts from oven, racks and heating elements. Remove protective film and labels on the</div>
<div class="t sm" style="left:23.30px;top:271.15px;font-size:4.07px;line-height:4.88px;">outer door and control panel. Also, remove plastic on trims and panel, all tape around the oven</div>
<div class="t sm" style="left:23.30px;top:276.15px;font-size:4.07px;line-height:4.88px;">and any shipping screws securing the oven to the base pad. Open oven door and remove</div>
<div class="t sm" style="left:23.30px;top:280.15px;font-size:4.07px;line-height:4.88px;">literature pack and oven racks. Remove the bottom trim from the top of the oven. It will be</div>
<div class="t sm" style="left:23.30px;top:285.15px;font-size:4.07px;line-height:4.88px;">installed at the end of the installation process. The trim is wrapped separately and taped</div>
<div class="t sm" style="left:23.30px;top:289.15px;font-size:4.07px;line-height:4.88px;">to the top of the unit.</div>
<div class="t" style="left:216.40px;top:22.23px;font-size:6.1px;line-height:7.32px;font-weight:bold;">DESIGN INFORMATION</div>
<div class="t sm" style="left:216.40px;top:30.31px;font-size:3.9px;line-height:4.68px;font-weight:bold;">SINGLE OVEN INSTALLATIONS</div>
<div class="t sm" style="left:216.40px;top:36.33px;font-size:3.88px;line-height:4.66px;">The single oven may be installed in a cabinet alone or above a warming drawer. The single oven may</div>
<div class="t sm" style="left:216.40px;top:40.33px;font-size:3.88px;line-height:4.66px;">also be installed below a countertop or below specified cooktops. See the label on top of the oven for</div>
<div class="t sm" style="left:216.40px;top:44.33px;font-size:3.88px;line-height:4.66px;">approved models.</div>
<div class="t sm" style="left:216.40px;top:51.31px;font-size:3.9px;line-height:4.68px;font-weight:bold;">DOUBLE OVEN INSTALLATIONS</div>
<div class="t sm" style="left:216.40px;top:57.33px;font-size:3.88px;line-height:4.66px;">A double oven may be installed in a cabinet alone or above a warming drawer. See the label on top of</div>
<div class="t sm" style="left:216.40px;top:61.33px;font-size:3.88px;line-height:4.66px;">the oven for approved models.</div>
<div class="t sm" style="left:216.40px;top:68.33px;font-size:3.88px;line-height:4.66px;"><b>IMPORTANT:</b> Always refer to individual installation instructions packed with each product for specific</div>
<div class="t sm" style="left:216.40px;top:72.33px;font-size:3.88px;line-height:4.66px;">requirements.</div>
<div class="t" style="left:216.40px;top:94.97px;font-size:6.9px;line-height:8.28px;font-weight:bold;width:8.80px;text-align:center;">2</div>
<div class="t" style="left:228.20px;top:96.23px;font-size:6.1px;line-height:7.32px;font-weight:bold;">PREPARE THE OPENING (FOR INDOOR USE ONLY)</div>
<div class="t sm" style="left:216.40px;top:105.17px;font-size:4.05px;line-height:4.86px;"><b>NOTE:</b> If the cabinet does not have a solid bottom,</div>
<div class="t sm" style="left:216.40px;top:109.17px;font-size:4.05px;line-height:4.86px;">two braces or runners must be installed to support</div>
<div class="t sm" style="left:216.40px;top:114.17px;font-size:4.05px;line-height:4.86px;">the weight of the oven. For single ovens, the runners</div>
<div class="t sm" style="left:216.40px;top:118.17px;font-size:4.05px;line-height:4.86px;">and braces must support 200 lbs (91 kg). For double</div>
<div class="t sm" style="left:216.40px;top:123.17px;font-size:4.05px;line-height:4.86px;">ovens, the runners and braces must support 375 lbs.</div>
<div class="t sm" style="left:216.40px;top:128.17px;font-size:4.05px;line-height:4.86px;">(170 kg).</div>
<div class="t sm" style="left:216.40px;top:134.17px;font-size:4.05px;line-height:4.86px;"><b>NOTE:</b> If marks, blemishes or the cutout opening are</div>
<div class="t sm" style="left:216.40px;top:138.17px;font-size:4.05px;line-height:4.86px;">visible above the installed oven, it may be necessary</div>
<div class="t sm" style="left:216.40px;top:143.17px;font-size:4.05px;line-height:4.86px;">to add wood shims under the runners and front trim</div>
<div class="t sm" style="left:216.40px;top:147.17px;font-size:4.05px;line-height:4.86px;">until the marks or opening are covered.</div>
<div class="t sm" style="left:216.40px;top:153.17px;font-size:4.05px;line-height:4.86px;"><b>NOTE:</b> If the cabinet does not have a front frame</div>
<div class="t sm" style="left:216.40px;top:158.17px;font-size:4.05px;line-height:4.86px;">and the sides are less than ¾" (1.9 cm) thick, shim</div>
<div class="t sm" style="left:216.40px;top:162.17px;font-size:4.05px;line-height:4.86px;">both sides equally to establish the cutout width.</div>
<div class="t" style="left:409.50px;top:23.37px;font-size:6.9px;line-height:8.28px;font-weight:bold;width:8.50px;text-align:center;">2</div>
<div class="t" style="left:419.50px;top:23.37px;font-size:6.9px;line-height:8.28px;font-weight:bold;width:9.10px;text-align:center;">A</div>
<div class="t" style="left:430.90px;top:24.23px;font-size:6.1px;line-height:7.32px;font-weight:bold;">CUTOUT FOR SINGLE OVENS IN WALL CABINET</div>
<div class="t sm" style="left:409.20px;top:32.13px;font-size:4.09px;line-height:4.91px;"><b>NOTE:</b> If the cabinet does not have a front frame and the sides are less than ¾" (1.9 cm) thick,</div>
<div class="t sm" style="left:409.20px;top:37.13px;font-size:4.09px;line-height:4.91px;">shim both sides equally to establish the cutout width.</div>
<div class="t sm" style="left:413.00px;top:46.21px;font-size:4.0px;line-height:4.80px;">These ovens are not</div>
<div class="t sm" style="left:413.00px;top:50.21px;font-size:4.0px;line-height:4.80px;">approved for stackable</div>
<div class="t sm" style="left:413.00px;top:54.21px;font-size:4.0px;line-height:4.80px;">installations.</div>
<div class="t sm" style="left:413.00px;top:177.19px;font-size:4.03px;line-height:4.84px;font-weight:bold;">Dimension Dimension Description 27" Single Oven 30" Single Oven</div>
<div class="t sm" style="left:420.80px;top:182.19px;font-size:4.03px;line-height:4.84px;"><b>A Cabinet Width</b> 27" (68.6 cm) 30" (76.2 cm)</div>
<div class="t sm" style="left:420.80px;top:188.19px;font-size:4.03px;line-height:4.84px;"><b>B Cutout Width</b> 25" (63.5 cm) min.</div>
<div class="t sm" style="left:484.80px;top:188.19px;font-size:4.03px;line-height:4.84px;width:49.80px;text-align:center;"><span style="margin-right:18px">28</span></div>
<div class="t sm" style="left:484.80px;top:192.19px;font-size:4.03px;line-height:4.84px;width:49.80px;text-align:center;">25¼" (64.1 cm) max.</div>
<div class="t sm" style="left:534.60px;top:188.19px;font-size:4.03px;line-height:4.84px;width:50.40px;text-align:center;">½" (72.4 cm) min.</div>
<div class="t sm" style="left:534.60px;top:192.19px;font-size:4.03px;line-height:4.84px;width:50.40px;text-align:center;">28⅝" (72.7 cm) max.</div>
<div class="t sm" style="left:409.60px;top:197.19px;font-size:4.03px;line-height:4.84px;font-weight:bold;width:27.10px;text-align:center;">C</div>
<div class="t sm" style="left:436.70px;top:197.19px;font-size:4.03px;line-height:4.84px;font-weight:bold;width:48.10px;text-align:center;">Cutout Height</div>
<div class="t sm" style="left:484.80px;top:197.19px;font-size:4.03px;line-height:4.84px;width:49.80px;text-align:center;">27⅝" (70.2 cm) min.</div>
<div class="t sm" style="left:484.80px;top:201.19px;font-size:4.03px;line-height:4.84px;width:49.80px;text-align:center;">28⅛" (71.4 cm) max.</div>
<div class="t sm" style="left:534.60px;top:197.19px;font-size:4.03px;line-height:4.84px;width:50.40px;text-align:center;">27¼" (69.2 cm) min.</div>
<div class="t sm" style="left:534.60px;top:201.19px;font-size:4.03px;line-height:4.84px;width:50.40px;text-align:center;">27⁵⁄₁₆" (69.4 cm) max.</div>
<div class="t sm" style="left:409.60px;top:207.19px;font-size:4.03px;line-height:4.84px;font-weight:bold;width:27.10px;text-align:center;">D</div>
<div class="t sm" style="left:436.70px;top:207.19px;font-size:4.03px;line-height:4.84px;font-weight:bold;width:48.10px;text-align:center;">Overlap of Oven Over</div>
<div class="t sm" style="left:436.70px;top:211.19px;font-size:4.03px;line-height:4.84px;font-weight:bold;width:48.10px;text-align:center;">Side Edges of Cutout</div>
<div class="t sm" style="left:484.80px;top:207.19px;font-size:4.03px;line-height:4.84px;width:49.80px;text-align:center;">1" (2.5 cm)</div>
<div class="t sm" style="left:534.60px;top:207.19px;font-size:4.03px;line-height:4.84px;width:50.40px;text-align:center;">¹¹⁄₁₆" (1.75 cm)</div>
<div class="t sm" style="left:409.60px;top:217.19px;font-size:4.03px;line-height:4.84px;font-weight:bold;width:27.10px;text-align:center;">E</div>
<div class="t sm" style="left:436.70px;top:217.19px;font-size:4.03px;line-height:4.84px;font-weight:bold;width:48.10px;text-align:center;">Clearance to</div>
<div class="t sm" style="left:436.70px;top:221.19px;font-size:4.03px;line-height:4.84px;font-weight:bold;width:48.10px;text-align:center;">Adjacent Corners,</div>
<div class="t sm" style="left:436.70px;top:225.19px;font-size:4.03px;line-height:4.84px;font-weight:bold;width:48.10px;text-align:center;">Drawers, Walls, etc.,</div>
<div class="t sm" style="left:436.70px;top:229.19px;font-size:4.03px;line-height:4.84px;font-weight:bold;width:48.10px;text-align:center;">When Door Is Open</div>
<div class="t sm" style="left:484.80px;top:217.19px;font-size:4.03px;line-height:4.84px;width:49.80px;text-align:center;">20" (50.8 cm) min.</div>
<div class="t sm" style="left:534.60px;top:217.19px;font-size:4.03px;line-height:4.84px;width:50.40px;text-align:center;">21" (53.3 cm) min.</div>
<div class="t sm" style="left:409.60px;top:234.19px;font-size:4.03px;line-height:4.84px;font-weight:bold;width:27.10px;text-align:center;">F</div>
<div class="t sm" style="left:436.70px;top:234.19px;font-size:4.03px;line-height:4.84px;font-weight:bold;width:48.10px;text-align:center;">Overlap of Oven</div>
<div class="t sm" style="left:436.70px;top:238.19px;font-size:4.03px;line-height:4.84px;font-weight:bold;width:48.10px;text-align:center;">Top of Cutout</div>
<div class="t sm" style="left:484.80px;top:234.19px;font-size:4.03px;line-height:4.84px;width:49.80px;text-align:center;">1" (2.5 cm) min.</div>
<div class="t sm" style="left:534.60px;top:234.19px;font-size:4.03px;line-height:4.84px;width:50.40px;text-align:center;">1" (2.5 cm) min.</div>
<div class="t sm" style="left:409.60px;top:244.19px;font-size:4.03px;line-height:4.84px;font-weight:bold;width:27.10px;text-align:center;">G</div>
<div class="t sm" style="left:436.70px;top:244.19px;font-size:4.03px;line-height:4.84px;font-weight:bold;width:48.10px;text-align:center;">Overlap of Oven</div>
<div class="t sm" style="left:436.70px;top:248.19px;font-size:4.03px;line-height:4.84px;font-weight:bold;width:48.10px;text-align:center;">Bottom of Cutout</div>
<div class="t sm" style="left:484.80px;top:244.19px;font-size:4.03px;line-height:4.84px;width:49.80px;text-align:center;">1" (2.5 cm) min.</div>
<div class="t sm" style="left:534.60px;top:244.19px;font-size:4.03px;line-height:4.84px;width:50.40px;text-align:center;">1¼" (3.2 cm)</div>
<div class="t sm" style="left:409.60px;top:254.19px;font-size:4.03px;line-height:4.84px;font-weight:bold;width:27.10px;text-align:center;">H</div>
<div class="t sm" style="left:436.70px;top:254.19px;font-size:4.03px;line-height:4.84px;font-weight:bold;width:48.10px;text-align:center;">Junction Box Location</div>
<div class="t sm" style="left:484.80px;top:254.19px;font-size:4.03px;line-height:4.84px;width:49.80px;text-align:center;">8¾" (22.2 cm) max.</div>
<div class="t sm" style="left:534.60px;top:254.19px;font-size:4.03px;line-height:4.84px;width:50.40px;text-align:center;"> 9.5" (24.1 cm) max.</div>
<div class="t sm" style="left:495.20px;top:258.19px;font-size:4.03px;line-height:4.84px;">right side only right side only</div>
<div class="t" style="left:602.00px;top:23.57px;font-size:6.9px;line-height:8.28px;font-weight:bold;width:7.50px;text-align:center;">2</div>
<div class="t" style="left:612.20px;top:23.57px;font-size:6.9px;line-height:8.28px;font-weight:bold;width:8.70px;text-align:center;">B</div>
<div class="t" style="left:623.90px;top:24.51px;font-size:5.8px;line-height:6.96px;font-weight:bold;">CUTOUT FOR SINGLE OVENS – UNDER COUNTER</div>
<div class="t sm" style="left:601.70px;top:32.13px;font-size:4.09px;line-height:4.91px;"><b>NOTE:</b> These ovens are only approved to be installed under the specific models as labeled on</div>
<div class="t sm" style="left:601.70px;top:37.13px;font-size:4.09px;line-height:4.91px;">the unit.</div>
<div class="t sm" style="left:602.00px;top:210.17px;font-size:4.05px;line-height:4.86px;"><b>NOTE:</b> One cooktop may be centered over either</div>
<div class="t sm" style="left:602.00px;top:215.17px;font-size:4.05px;line-height:4.86px;">oven in the side-by-side installation.</div>
<div class="t sm" style="left:605.00px;top:226.19px;font-size:4.03px;line-height:4.84px;font-weight:bold;">Dimension Dimension Description 27" Single Oven 30" Single Oven</div>
<div class="t sm" style="left:602.30px;top:231.19px;font-size:4.03px;line-height:4.84px;font-weight:bold;width:25.90px;text-align:center;">A</div>
<div class="t sm" style="left:628.20px;top:231.19px;font-size:4.03px;line-height:4.84px;font-weight:bold;width:49.50px;text-align:center;">Cabinet Width</div>
<div class="t sm" style="left:677.70px;top:231.19px;font-size:4.03px;line-height:4.84px;width:49.30px;text-align:center;">25" (63.5 cm) min.</div>
<div class="t sm" style="left:677.70px;top:235.19px;font-size:4.03px;line-height:4.84px;width:49.30px;text-align:center;">25¼" (64.1 cm) max.</div>
<div class="t sm" style="left:727.00px;top:231.19px;font-size:4.03px;line-height:4.84px;width:50.90px;text-align:center;">28½" (72.4 cm) min.</div>
<div class="t sm" style="left:727.00px;top:235.19px;font-size:4.03px;line-height:4.84px;width:50.90px;text-align:center;">28⅝" (72.7 cm) max.</div>
<div class="t sm" style="left:602.30px;top:241.19px;font-size:4.03px;line-height:4.84px;font-weight:bold;width:25.90px;text-align:center;">B</div>
<div class="t sm" style="left:628.20px;top:241.19px;font-size:4.03px;line-height:4.84px;font-weight:bold;width:49.50px;text-align:center;">Cutout Height</div>
<div class="t sm" style="left:677.70px;top:241.19px;font-size:4.03px;line-height:4.84px;width:49.30px;text-align:center;">27⅝" (70.2 cm) min.</div>
<div class="t sm" style="left:677.70px;top:245.19px;font-size:4.03px;line-height:4.84px;width:49.30px;text-align:center;">28⅛" (71.4 cm) max.</div>
<div class="t sm" style="left:727.00px;top:241.19px;font-size:4.03px;line-height:4.84px;width:50.90px;text-align:center;">27¼" (69.2 cm) min.</div>
<div class="t sm" style="left:727.00px;top:245.19px;font-size:4.03px;line-height:4.84px;width:50.90px;text-align:center;">27⁵⁄₁₆" (69.4 cm) max.</div>
<div class="t sm" style="left:602.30px;top:250.19px;font-size:4.03px;line-height:4.84px;font-weight:bold;width:25.90px;text-align:center;">C</div>
<div class="t sm" style="left:628.20px;top:250.19px;font-size:4.03px;line-height:4.84px;font-weight:bold;width:49.50px;text-align:center;">Unit Overlap Top</div>
<div class="t sm" style="left:677.70px;top:250.19px;font-size:4.03px;line-height:4.84px;width:49.30px;text-align:center;">1" (2.5 cm)</div>
<div class="t sm" style="left:727.00px;top:250.19px;font-size:4.03px;line-height:4.84px;width:50.90px;text-align:center;">1" (2.5 cm)</div>
<div class="t sm" style="left:602.30px;top:256.19px;font-size:4.03px;line-height:4.84px;font-weight:bold;width:25.90px;text-align:center;">D</div>
<div class="t sm" style="left:628.20px;top:256.19px;font-size:4.03px;line-height:4.84px;font-weight:bold;width:49.50px;text-align:center;">Unit Overlap Bottom</div>
<div class="t sm" style="left:677.70px;top:256.19px;font-size:4.03px;line-height:4.84px;width:49.30px;text-align:center;">1" (2.5 cm)</div>
<div class="t sm" style="left:727.00px;top:256.19px;font-size:4.03px;line-height:4.84px;width:50.90px;text-align:center;">1¼" (3.2 cm)</div>
<div class="t sm" style="left:602.30px;top:262.19px;font-size:4.03px;line-height:4.84px;font-weight:bold;width:25.90px;text-align:center;">E</div>
<div class="t sm" style="left:628.20px;top:262.19px;font-size:4.03px;line-height:4.84px;font-weight:bold;width:49.50px;text-align:center;">Unit Overlap Side Edges</div>
<div class="t sm" style="left:677.70px;top:262.19px;font-size:4.03px;line-height:4.84px;width:49.30px;text-align:center;">1" (2.5 cm)</div>
<div class="t sm" style="left:727.00px;top:262.19px;font-size:4.03px;line-height:4.84px;width:50.90px;text-align:center;">¹¹⁄₁₆" (1.75 cm)</div>
<div class="t sm" style="left:602.30px;top:267.19px;font-size:4.03px;line-height:4.84px;font-weight:bold;width:25.90px;text-align:center;">F</div>
<div class="t sm" style="left:628.20px;top:267.19px;font-size:4.03px;line-height:4.84px;font-weight:bold;width:49.50px;text-align:center;">Junction Box Location</div>
<div class="t sm" style="left:677.70px;top:267.19px;font-size:4.03px;line-height:4.84px;width:49.30px;text-align:center;">8¾" (22.2 cm) max.</div>
<div class="t sm" style="left:727.00px;top:267.19px;font-size:4.03px;line-height:4.84px;width:50.90px;text-align:center;">9½" (24.1 cm) max.</div>
<div class="t sm" style="left:688.50px;top:271.19px;font-size:4.03px;line-height:4.84px;">right side only right side only</div>
<div class="t sm" style="left:602.00px;top:281.19px;font-size:4.03px;line-height:4.84px;font-weight:bold;">Continue to Section 3.</div>
<div class="t" style="left:24.10px;top:318.14px;font-size:6.4px;line-height:7.68px;font-weight:bold;width:8.10px;text-align:center;">2</div>
<div class="t" style="left:34.70px;top:318.14px;font-size:6.4px;line-height:7.68px;font-weight:bold;width:7.90px;text-align:center;">C</div>
<div class="t" style="left:45.70px;top:319.27px;font-size:6.05px;line-height:7.26px;font-weight:bold;">CUTOUT FOR DOUBLE OVENS <span class="c" style="font-size:5.1px;transform:scaleX(0.87);-webkit-text-stroke:0.08px #000">(2 Thermal Ovens)</span></div>
<div class="t sm" style="left:23.30px;top:327.13px;font-size:4.09px;line-height:4.91px;"><b>NOTE:</b> If the cabinet does not have a front frame and the sides are less than ¾" (1.9 cm) thick,</div>
<div class="t sm" style="left:23.30px;top:331.13px;font-size:4.09px;line-height:4.91px;">shim both sides equally to establish the cutout width.</div>
<div class="t sm" style="left:24.40px;top:470.19px;font-size:4.03px;line-height:4.84px;font-weight:bold;width:26.10px;text-align:center;">Dimension</div>
<div class="t sm" style="left:50.50px;top:470.19px;font-size:4.03px;line-height:4.84px;font-weight:bold;width:49.00px;text-align:center;">Dimension Description</div>
<div class="t sm" style="left:99.50px;top:470.19px;font-size:4.03px;line-height:4.84px;width:50.10px;text-align:center;"><b>27" Double Oven</b></div>
<div class="t sm" style="left:149.60px;top:470.19px;font-size:4.03px;line-height:4.84px;width:50.70px;text-align:center;"><b>30" Double Oven</b></div>
<div class="t sm" style="left:35.80px;top:476.19px;font-size:4.03px;line-height:4.84px;"><b>A Cabinet Width</b> 27" (68.6 cm) 30" (76.2 cm)</div>
<div class="t sm" style="left:35.80px;top:481.19px;font-size:4.03px;line-height:4.84px;"><b>B Cutout Width</b> 25" (63.5 cm) min.</div>
<div class="t sm" style="left:99.50px;top:481.19px;font-size:4.03px;line-height:4.84px;width:50.10px;text-align:center;"><span style="margin-right:20px">28</span></div>
<div class="t sm" style="left:99.50px;top:485.19px;font-size:4.03px;line-height:4.84px;width:50.10px;text-align:center;">25¼" (64.1 cm) max.</div>
<div class="t sm" style="left:149.60px;top:481.19px;font-size:4.03px;line-height:4.84px;width:50.70px;text-align:center;">½" (72.4 cm) min.</div>
<div class="t sm" style="left:149.60px;top:485.19px;font-size:4.03px;line-height:4.84px;width:50.70px;text-align:center;">28⅝" (72.7 cm) max.</div>
<div class="t sm" style="left:24.40px;top:491.19px;font-size:4.03px;line-height:4.84px;font-weight:bold;width:26.10px;text-align:center;">C</div>
<div class="t sm" style="left:50.50px;top:491.19px;font-size:4.03px;line-height:4.84px;font-weight:bold;width:49.00px;text-align:center;">Cutout Height</div>
<div class="t sm" style="left:99.50px;top:491.19px;font-size:4.03px;line-height:4.84px;width:50.10px;text-align:center;">49¹¹⁄₁₆" (126.2 cm) min.</div>
<div class="t sm" style="left:99.50px;top:495.19px;font-size:4.03px;line-height:4.84px;width:50.10px;text-align:center;">50⅛" (127.3 cm) max.</div>
<div class="t sm" style="left:149.60px;top:491.19px;font-size:4.03px;line-height:4.84px;width:50.70px;text-align:center;">51¹³⁄₁₆" (131.6 cm) min.</div>
<div class="t sm" style="left:149.60px;top:495.19px;font-size:4.03px;line-height:4.84px;width:50.70px;text-align:center;">51¹⁵⁄₁₆" (131.9 cm) max.</div>
<div class="t sm" style="left:24.40px;top:500.19px;font-size:4.03px;line-height:4.84px;font-weight:bold;width:26.10px;text-align:center;">D</div>
<div class="t sm" style="left:50.50px;top:500.19px;font-size:4.03px;line-height:4.84px;font-weight:bold;width:49.00px;text-align:center;">Overlap of Oven</div>
<div class="t sm" style="left:50.50px;top:504.19px;font-size:4.03px;line-height:4.84px;font-weight:bold;width:49.00px;text-align:center;">Over Side Edges</div>
<div class="t sm" style="left:50.50px;top:508.19px;font-size:4.03px;line-height:4.84px;font-weight:bold;width:49.00px;text-align:center;">of Cutout</div>
<div class="t sm" style="left:99.50px;top:500.19px;font-size:4.03px;line-height:4.84px;width:50.10px;text-align:center;">1" (2.5 cm)</div>
<div class="t sm" style="left:149.60px;top:500.19px;font-size:4.03px;line-height:4.84px;width:50.70px;text-align:center;">¹¹⁄₁₆" (1.75 cm)</div>
<div class="t sm" style="left:24.40px;top:514.19px;font-size:4.03px;line-height:4.84px;font-weight:bold;width:26.10px;text-align:center;">E</div>
<div class="t sm" style="left:50.50px;top:514.19px;font-size:4.03px;line-height:4.84px;font-weight:bold;width:49.00px;text-align:center;">Clearance to Adjacent</div>
<div class="t sm" style="left:50.50px;top:518.19px;font-size:4.03px;line-height:4.84px;font-weight:bold;width:49.00px;text-align:center;">Corners, Drawers, Walls,</div>
<div class="t sm" style="left:50.50px;top:522.19px;font-size:4.03px;line-height:4.84px;font-weight:bold;width:49.00px;text-align:center;">etc., When Door Is Open</div>
<div class="t sm" style="left:99.50px;top:514.19px;font-size:4.03px;line-height:4.84px;width:50.10px;text-align:center;">20" (50.8 cm) min.</div>
<div class="t sm" style="left:149.60px;top:514.19px;font-size:4.03px;line-height:4.84px;width:50.70px;text-align:center;">21" (53.3 cm) min.</div>
<div class="t sm" style="left:24.40px;top:528.19px;font-size:4.03px;line-height:4.84px;font-weight:bold;width:26.10px;text-align:center;">F</div>
<div class="t sm" style="left:50.50px;top:528.19px;font-size:4.03px;line-height:4.84px;font-weight:bold;width:49.00px;text-align:center;">Overlap of Oven</div>
<div class="t sm" style="left:50.50px;top:532.19px;font-size:4.03px;line-height:4.84px;font-weight:bold;width:49.00px;text-align:center;">Top of Cutout</div>
<div class="t sm" style="left:99.50px;top:528.19px;font-size:4.03px;line-height:4.84px;width:50.10px;text-align:center;">1" (2.5 cm) min.</div>
<div class="t sm" style="left:149.60px;top:528.19px;font-size:4.03px;line-height:4.84px;width:50.70px;text-align:center;">1" (2.5 cm) min.</div>
<div class="t sm" style="left:24.40px;top:537.19px;font-size:4.03px;line-height:4.84px;font-weight:bold;width:26.10px;text-align:center;">G</div>
<div class="t sm" style="left:50.50px;top:537.19px;font-size:4.03px;line-height:4.84px;font-weight:bold;width:49.00px;text-align:center;">Overlap of Oven</div>
<div class="t sm" style="left:50.50px;top:541.19px;font-size:4.03px;line-height:4.84px;font-weight:bold;width:49.00px;text-align:center;">Bottom of Cutout</div>
<div class="t sm" style="left:99.50px;top:537.19px;font-size:4.03px;line-height:4.84px;width:50.10px;text-align:center;">1" (2.5 cm) min. 1</div>
<div class="t sm" style="left:149.60px;top:537.19px;font-size:4.03px;line-height:4.84px;width:50.70px;text-align:center;">¼" (3.2 cm)</div>
<div class="t sm" style="left:24.40px;top:547.19px;font-size:4.03px;line-height:4.84px;font-weight:bold;width:26.10px;text-align:center;">H</div>
<div class="t sm" style="left:50.50px;top:547.19px;font-size:4.03px;line-height:4.84px;font-weight:bold;width:49.00px;text-align:center;">Junction Box Location</div>
<div class="t sm" style="left:99.50px;top:547.19px;font-size:4.03px;line-height:4.84px;width:50.10px;text-align:center;">8¾" (22.2 cm) max.</div>
<div class="t sm" style="left:149.60px;top:547.19px;font-size:4.03px;line-height:4.84px;width:50.70px;text-align:center;">9½" (24.1 cm) max.</div>
<div class="t sm" style="left:24.40px;top:556.19px;font-size:4.03px;line-height:4.84px;font-weight:bold;width:26.10px;text-align:center;">J</div>
<div class="t sm" style="left:50.50px;top:556.19px;font-size:4.03px;line-height:4.84px;font-weight:bold;width:49.00px;text-align:center;">Height to Bottom of</div>
<div class="t sm" style="left:50.50px;top:560.19px;font-size:4.03px;line-height:4.84px;font-weight:bold;width:49.00px;text-align:center;">Junction Box</div>
<div class="t sm" style="left:99.50px;top:556.19px;font-size:4.03px;line-height:4.84px;width:50.10px;text-align:center;">44" (111.8 cm)</div>
<div class="t sm" style="left:149.60px;top:556.19px;font-size:4.03px;line-height:4.84px;width:50.70px;text-align:center;">47" (119.4 cm)</div>
<div class="t sm" style="left:24.40px;top:566.19px;font-size:4.03px;line-height:4.84px;font-weight:bold;width:26.10px;text-align:center;">K</div>
<div class="t sm" style="left:50.50px;top:566.19px;font-size:4.03px;line-height:4.84px;font-weight:bold;width:49.00px;text-align:center;">Recommended</div>
<div class="t sm" style="left:50.50px;top:570.19px;font-size:4.03px;line-height:4.84px;font-weight:bold;width:49.00px;text-align:center;">Cutout Location from</div>
<div class="t sm" style="left:50.50px;top:574.19px;font-size:4.03px;line-height:4.84px;font-weight:bold;width:49.00px;text-align:center;">Floor</div>
<div class="t sm" style="left:111.00px;top:551.19px;font-size:4.03px;line-height:4.84px;">right side only right side only</div>
<div class="t sm" style="left:110.20px;top:566.19px;font-size:4.03px;line-height:4.84px;">13½" (33.7 cm) 12" (30.5 cm)</div>
<div class="t sm" style="left:24.00px;top:584.19px;font-size:4.03px;line-height:4.84px;font-weight:bold;">Continue to Section 3.</div>
<div class="t" style="left:216.40px;top:318.14px;font-size:6.4px;line-height:7.68px;font-weight:bold;width:8.30px;text-align:center;">2</div>
<div class="t" style="left:226.80px;top:318.14px;font-size:6.4px;line-height:7.68px;font-weight:bold;width:8.60px;text-align:center;">D</div>
<div class="t" style="left:238.40px;top:319.27px;font-size:6.05px;line-height:7.26px;font-weight:bold;">CUTOUT FOR DOUBLE OVENS <span class="c" style="font-size:5.1px;transform:scaleX(0.87);-webkit-text-stroke:0.08px #000">(with Upper Microwave Oven)</span></div>
<div class="t sm" style="left:216.40px;top:327.12px;font-size:4.1px;line-height:4.92px;"><b>NOTE:</b> If the cabinet does not have a front frame and the sides are less than ¾" (1.9 cm) thick,</div>
<div class="t sm" style="left:216.40px;top:331.12px;font-size:4.1px;line-height:4.92px;">shim both sides equally to establish the cutout width.</div>
<div class="t sm" style="left:216.60px;top:494.19px;font-size:4.03px;line-height:4.84px;font-weight:bold;width:26.90px;text-align:center;">Dimension</div>
<div class="t sm" style="left:243.50px;top:490.19px;font-size:4.03px;line-height:4.84px;font-weight:bold;width:48.30px;text-align:center;">Dimension</div>
<div class="t sm" style="left:243.50px;top:494.19px;font-size:4.03px;line-height:4.84px;font-weight:bold;width:48.30px;text-align:center;">Description</div>
<div class="t sm" style="left:291.80px;top:490.19px;font-size:4.03px;line-height:4.84px;width:49.60px;text-align:center;"><b>27" Oven</div>
<div class="t sm" style="left:291.80px;top:494.19px;font-size:4.03px;line-height:4.84px;width:49.60px;text-align:center;">with Microwave</b></div>
<div class="t sm" style="left:341.40px;top:490.19px;font-size:4.03px;line-height:4.84px;width:51.40px;text-align:center;"><b>30" Oven</div>
<div class="t sm" style="left:341.40px;top:494.19px;font-size:4.03px;line-height:4.84px;width:51.40px;text-align:center;">with Microwave</b></div>
<div class="t sm" style="left:228.10px;top:499.19px;font-size:4.03px;line-height:4.84px;"><b>A Cabinet Width</b> 27" (68.6 cm) 30" (76.2 cm)</div>
<div class="t sm" style="left:228.10px;top:505.19px;font-size:4.03px;line-height:4.84px;"><b>B Cutout Width</b> 25" (63.5 cm) min.</div>
<div class="t sm" style="left:291.80px;top:505.19px;font-size:4.03px;line-height:4.84px;width:49.60px;text-align:center;"><span style="margin-right:20px">28</span></div>
<div class="t sm" style="left:291.80px;top:509.19px;font-size:4.03px;line-height:4.84px;width:49.60px;text-align:center;">25¼" (64.1 cm) max.</div>
<div class="t sm" style="left:341.40px;top:505.19px;font-size:4.03px;line-height:4.84px;width:51.40px;text-align:center;">½" (72.4 cm) min.</div>
<div class="t sm" style="left:341.40px;top:509.19px;font-size:4.03px;line-height:4.84px;width:51.40px;text-align:center;">28⅝" (72.7 cm) max.</div>
<div class="t sm" style="left:216.60px;top:514.19px;font-size:4.03px;line-height:4.84px;font-weight:bold;width:26.90px;text-align:center;">C</div>
<div class="t sm" style="left:243.50px;top:514.19px;font-size:4.03px;line-height:4.84px;font-weight:bold;width:48.30px;text-align:center;">Cutout Height</div>
<div class="t sm" style="left:291.80px;top:514.19px;font-size:4.03px;line-height:4.84px;width:49.60px;text-align:center;">41⅛" (104.5 cm) min.</div>
<div class="t sm" style="left:291.80px;top:518.19px;font-size:4.03px;line-height:4.84px;width:49.60px;text-align:center;">41¼" (104.8 cm) max.</div>
<div class="t sm" style="left:341.40px;top:514.19px;font-size:4.03px;line-height:4.84px;width:51.40px;text-align:center;">42⅛" (107.0 cm) min.</div>
<div class="t sm" style="left:341.40px;top:518.19px;font-size:4.03px;line-height:4.84px;width:51.40px;text-align:center;">42¼" (107.3 cm) max.</div>
<div class="t sm" style="left:216.60px;top:524.19px;font-size:4.03px;line-height:4.84px;font-weight:bold;width:26.90px;text-align:center;">D</div>
<div class="t sm" style="left:243.50px;top:524.19px;font-size:4.03px;line-height:4.84px;font-weight:bold;width:48.30px;text-align:center;">Overlap of Oven</div>
<div class="t sm" style="left:243.50px;top:528.19px;font-size:4.03px;line-height:4.84px;font-weight:bold;width:48.30px;text-align:center;">Over Side Edges</div>
<div class="t sm" style="left:243.50px;top:532.19px;font-size:4.03px;line-height:4.84px;font-weight:bold;width:48.30px;text-align:center;">of Cutout</div>
<div class="t sm" style="left:291.80px;top:524.19px;font-size:4.03px;line-height:4.84px;width:49.60px;text-align:center;">1" (2.5 cm)</div>
<div class="t sm" style="left:341.40px;top:524.19px;font-size:4.03px;line-height:4.84px;width:51.40px;text-align:center;">¹¹⁄₁₆" (1.75 cm)</div>
<div class="t sm" style="left:216.60px;top:538.19px;font-size:4.03px;line-height:4.84px;font-weight:bold;width:26.90px;text-align:center;">E</div>
<div class="t sm" style="left:243.50px;top:538.19px;font-size:4.03px;line-height:4.84px;font-weight:bold;width:48.30px;text-align:center;">Clearance to Adjacent</div>
<div class="t sm" style="left:243.50px;top:542.19px;font-size:4.03px;line-height:4.84px;font-weight:bold;width:48.30px;text-align:center;">Corners, Drawers, Walls,</div>
<div class="t sm" style="left:243.50px;top:546.19px;font-size:4.03px;line-height:4.84px;font-weight:bold;width:48.30px;text-align:center;">etc., When Door Is Open</div>
<div class="t sm" style="left:291.80px;top:538.19px;font-size:4.03px;line-height:4.84px;width:49.60px;text-align:center;">20" (50.8 cm) min.</div>
<div class="t sm" style="left:341.40px;top:538.19px;font-size:4.03px;line-height:4.84px;width:51.40px;text-align:center;">21" (53.3 cm)</div>
<div class="t sm" style="left:216.60px;top:551.19px;font-size:4.03px;line-height:4.84px;font-weight:bold;width:26.90px;text-align:center;">F</div>
<div class="t sm" style="left:243.50px;top:551.19px;font-size:4.03px;line-height:4.84px;font-weight:bold;width:48.30px;text-align:center;">Overlap of Oven</div>
<div class="t sm" style="left:243.50px;top:555.19px;font-size:4.03px;line-height:4.84px;font-weight:bold;width:48.30px;text-align:center;">Top of Cutout</div>
<div class="t sm" style="left:291.80px;top:551.19px;font-size:4.03px;line-height:4.84px;width:49.60px;text-align:center;">1" (2.5 cm) min.</div>
<div class="t sm" style="left:341.40px;top:551.19px;font-size:4.03px;line-height:4.84px;width:51.40px;text-align:center;">1" (2.5 cm) min.</div>
<div class="t sm" style="left:216.60px;top:561.19px;font-size:4.03px;line-height:4.84px;font-weight:bold;width:26.90px;text-align:center;">G</div>
<div class="t sm" style="left:243.50px;top:561.19px;font-size:4.03px;line-height:4.84px;font-weight:bold;width:48.30px;text-align:center;">Overlap of Oven</div>
<div class="t sm" style="left:243.50px;top:565.19px;font-size:4.03px;line-height:4.84px;font-weight:bold;width:48.30px;text-align:center;">Bottom of Cutout</div>
<div class="t sm" style="left:291.80px;top:561.19px;font-size:4.03px;line-height:4.84px;width:49.60px;text-align:center;">1" (2.5 cm) min. 1</div>
<div class="t sm" style="left:341.40px;top:561.19px;font-size:4.03px;line-height:4.84px;width:51.40px;text-align:center;">¼" (3.2 cm)</div>
<div class="t sm" style="left:216.60px;top:571.19px;font-size:4.03px;line-height:4.84px;font-weight:bold;width:26.90px;text-align:center;">H</div>
<div class="t sm" style="left:243.50px;top:571.19px;font-size:4.03px;line-height:4.84px;font-weight:bold;width:48.30px;text-align:center;">Junction Box Location</div>
<div class="t sm" style="left:291.80px;top:571.19px;font-size:4.03px;line-height:4.84px;width:49.60px;text-align:center;">8¾" (22.2 cm) max.</div>
<div class="t sm" style="left:341.40px;top:571.19px;font-size:4.03px;line-height:4.84px;width:51.40px;text-align:center;">9½" (24.1 cm) max.</div>
<div class="t sm" style="left:303.00px;top:575.19px;font-size:4.03px;line-height:4.84px;">right side only right side only</div>
<div class="t sm" style="left:217.00px;top:585.19px;font-size:4.03px;line-height:4.84px;font-weight:bold;">Continue to Section 3.</div>
<div class="t" style="left:409.50px;top:317.45px;font-size:6.6px;line-height:7.92px;font-weight:bold;width:8.50px;text-align:center;">2</div>
<div class="t" style="left:419.50px;top:317.45px;font-size:6.6px;line-height:7.92px;font-weight:bold;width:8.70px;text-align:center;">E</div>
<div class="t" style="left:431.00px;top:319.23px;font-size:6.1px;line-height:7.32px;font-weight:bold;">CUTOUT FOR INSTALLATION OVER A WARMING</div>
<div class="t" style="left:431.00px;top:325.23px;font-size:6.1px;line-height:7.32px;font-weight:bold;">DRAWER</div>
<div class="t sm" style="left:408.70px;top:333.12px;font-size:4.1px;line-height:4.92px;"><b>NOTE:</b> Install the oven only with specific models listed on the label located on top of the oven.</div>
<div class="t sm" style="left:408.70px;top:338.12px;font-size:4.1px;line-height:4.92px;"><b>NOTE:</b> Additional clearances between cutouts may be required. Check to be sure the oven</div>
<div class="t sm" style="left:408.70px;top:344.12px;font-size:4.1px;line-height:4.92px;">supports above the Warming Drawer location do not obstruct the required interior depth and</div>
<div class="t sm" style="left:408.70px;top:348.12px;font-size:4.1px;line-height:4.92px;">height.</div>
<div class="t sm" style="left:408.70px;top:354.12px;font-size:4.1px;line-height:4.92px;">When installing a Warming Drawer below a single or double oven, a separate 120V, 60 HZ,</div>
<div class="t sm" style="left:408.70px;top:358.12px;font-size:4.1px;line-height:4.92px;">properly grounded receptacle must be installed. Refer to installation instructions packed with</div>
<div class="t sm" style="left:408.70px;top:362.12px;font-size:4.1px;line-height:4.92px;">the Warming Drawer for specific installation requirements.</div>
<div class="t sm" style="left:408.70px;top:503.19px;font-size:4.03px;line-height:4.84px;font-weight:bold;">Continue to Section 3.</div>
<div class="t" style="left:18.30px;top:601.22px;font-size:5.05px;line-height:6.06px;width:30.40px;text-align:center;-webkit-text-stroke:0.08px #000;">31-10730-1</div>
<div class="t sm" style="left:54.40px;top:602.69px;font-size:3.5px;line-height:4.20px;">06-06 JR</div>
<div class="t sm" style="left:610.10px;top:146.17px;font-size:4.05px;line-height:4.86px;">Side-by-Side Installations (30" only)</div>
<div class="t sm" style="left:609.00px;top:150.17px;font-size:4.05px;line-height:4.86px;">Install two ovens in separate cutouts.</div>
<div class="t sm" style="left:604.20px;top:180.17px;font-size:4.05px;line-height:4.86px;">Cutout – observe</div>
<div class="t sm" style="left:604.20px;top:184.17px;font-size:4.05px;line-height:4.86px;">all dimensions and</div>
<div class="t sm" style="left:604.20px;top:188.17px;font-size:4.05px;line-height:4.86px;">requirements.</div>
<div class="t sm" style="left:647.30px;top:180.17px;font-size:4.05px;line-height:4.86px;">Cutout – observe</div>
<div class="t sm" style="left:647.30px;top:184.17px;font-size:4.05px;line-height:4.86px;">all dimensions and</div>
<div class="t sm" style="left:647.30px;top:188.17px;font-size:4.05px;line-height:4.86px;">requirements.</div>
</div>
<div id="foot"></div>
</div>
</body></html>
